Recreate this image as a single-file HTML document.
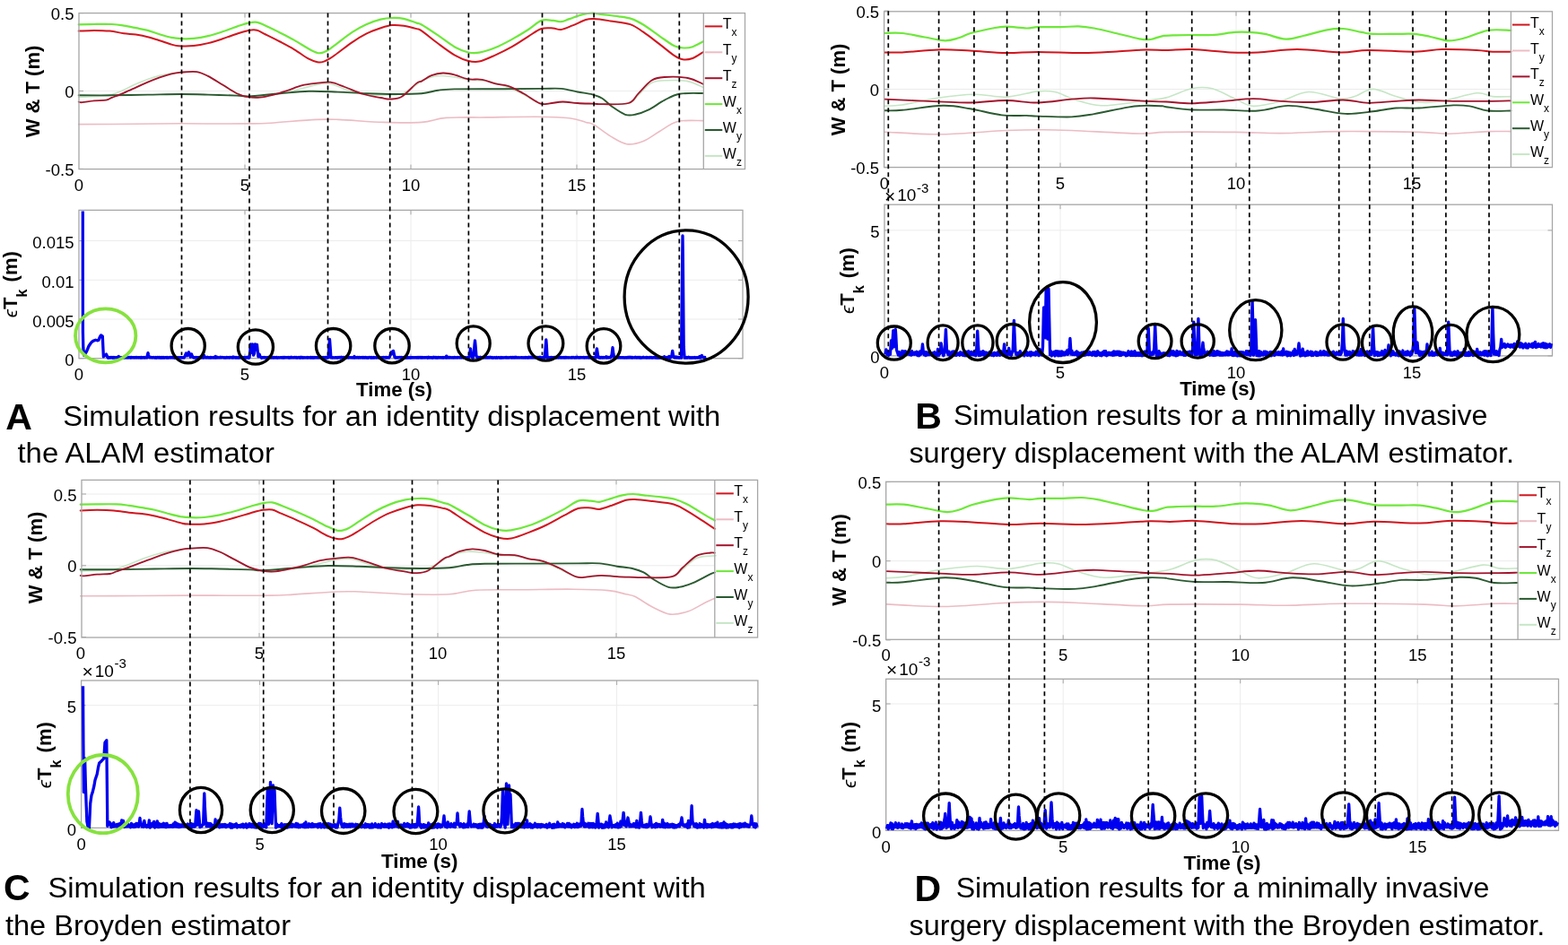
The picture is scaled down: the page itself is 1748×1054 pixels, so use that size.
<!DOCTYPE html>
<html><head><meta charset="utf-8"><title>Simulation results</title>
<style>html,body{margin:0;padding:0;background:#fff;}svg{display:block;}</style>
</head><body>
<svg width="1748" height="1054" viewBox="0 0 1748 1054" font-family="'Liberation Sans', Arial, Helvetica, sans-serif">
<rect width="1748" height="1054" fill="#fff"/>
<line x1="273" y1="14.6" x2="273" y2="188.6" stroke="#ececec" stroke-width="1"/>
<line x1="458" y1="14.6" x2="458" y2="188.6" stroke="#ececec" stroke-width="1"/>
<line x1="643" y1="14.6" x2="643" y2="188.6" stroke="#ececec" stroke-width="1"/>
<line x1="88" y1="101.5" x2="784.3" y2="101.5" stroke="#ececec" stroke-width="1"/>
<path d="M87.7,138.6C98.1,138.6 131,138.4 150,138.3C169,138.2 186.9,137.9 201.9,137.8C216.9,137.8 227.5,138 240,138C252.5,138 266.6,138 276.9,137.9C287.2,137.8 289.4,137.9 302,137.2C314.6,136.4 339.8,134 352.4,133.4C365,132.8 364.9,132.9 377.5,133.4C390.1,133.9 412.5,135.9 427.9,136.4C443.3,136.9 458.4,137.2 470,136.4C481.6,135.6 485.3,132.3 497.5,131.4C509.7,130.5 526.4,131.1 543.2,130.9C560,130.7 582.8,130.2 598.1,130.3C613.4,130.5 625.6,130.8 634.8,131.8C644,132.8 648.5,135.2 653.1,136.4C657.7,137.6 657.6,136.5 662.2,139.1C666.8,141.7 674.4,148.3 680.5,151.9C686.6,155.5 692.7,159.8 698.8,160.7C704.9,161.6 711,159.8 717.1,157.4C723.2,155 729,150.2 735.4,146.5C741.8,142.8 747.5,137.5 755.6,135.5C763.7,133.5 779.3,134.8 784,134.6" fill="none" stroke="#ecbcc4" stroke-width="1.6" stroke-linejoin="round" stroke-linecap="round"/>
<path d="M87.7,108.3C92.8,108.1 112,107.5 118.2,107C124.4,106.5 121.5,106.7 124.8,105.6C128.1,104.5 133.7,102.3 138.1,100.3C142.5,98.3 147,95.7 151.4,93.7C155.8,91.7 160.3,90 164.7,88.4C169.1,86.9 173.6,85.5 178,84.4C182.4,83.3 187.2,82.5 191.2,81.8C195.2,81.1 197.2,80.8 201.9,80.5C206.6,80.2 214.2,79.5 219.2,80.3C224.2,81 227.2,82.6 232,85C236.8,87.4 242.8,91.6 248.1,94.8C253.4,98 259.3,102.2 264.1,104.4C268.9,106.6 272.6,107.5 276.9,108.2C281.2,108.9 285.1,108.9 289.7,108.5C294.2,108.1 297.8,107 304.2,105.8C310.6,104.5 320.2,102.9 328.2,101C336.2,99.1 345.5,95.8 352.2,94.6C358.9,93.3 362.9,92.7 368.3,93.5C373.7,94.3 377.6,97.4 384.3,99.4C391,101.5 400.3,104.7 408.3,105.8C416.3,106.9 425.7,106.1 432.4,105.8C439.1,105.5 443.1,106.1 448.4,104.2C453.7,102.3 460.8,97 464.4,94.6C468,92.2 466,91.4 470,89.7C474,88 482.2,85.2 488.3,84.6C494.4,84 501.1,85.3 506.6,86C512.1,86.7 515.2,88 521.3,88.8C527.4,89.6 535.9,89.2 543.2,90.6C550.5,92 559.1,94.9 565.2,97C571.3,99.1 573.7,100.4 579.8,103.4C585.9,106.5 596.3,113.3 601.8,115.3C607.3,117.3 608.5,115.8 612.8,115.5C617.1,115.2 622.2,113.8 627.4,113.8C632.6,113.8 638.1,114.8 643.9,115.2C649.7,115.6 657.6,115.7 662.2,115.9C666.8,116.1 665,116.3 671.4,116.2C677.8,116.1 694,116.9 700.7,115.2C707.4,113.5 707.3,110 711.6,106.2C715.9,102.4 720.8,95.2 726.3,92.4C731.8,89.7 737.9,90 744.6,89.7C751.3,89.4 760,89.3 766.6,90.6C773.2,91.9 781.1,96.3 784,97.5" fill="none" stroke="#c6e6c6" stroke-width="1.6" stroke-linejoin="round" stroke-linecap="round"/>
<path d="M87.7,106.3C93.9,106.3 112,106.4 124.8,106.3C137.6,106.2 151.8,105.8 164.7,105.6C177.5,105.4 190.7,105 201.9,105C213.1,105 221.6,105.3 232,105.6C242.4,105.9 256.6,106.3 264.1,106.6C271.6,106.9 268.9,107.8 276.9,107.4C284.9,107 301,105.1 312.2,104.2C323.4,103.3 333.5,102.1 344.2,101.8C354.9,101.5 365.6,102.2 376.3,102.6C387,103 397.6,103.8 408.3,104.2C419,104.6 430.1,105 440.4,105C450.7,105 462,105 470,104.3C478,103.6 482.2,101.5 488.3,100.7C494.4,99.9 494.4,99.7 506.6,99.4C518.8,99.2 545.3,99.3 561.5,99.2C577.7,99.1 592.9,99 603.6,98.9C614.3,98.9 618.9,98.3 625.6,98.9C632.3,99.5 638.1,101.4 643.9,102.5C649.7,103.6 655.8,104.1 660.4,105.3C665,106.5 667.7,107.5 671.4,109.8C675.1,112.1 678.1,116 682.4,119C686.7,122 692.7,126.3 697,127.8C701.3,129.3 703.7,128.7 708,127.8C712.3,127 717.1,125.4 722.6,122.7C728.1,120 735.1,114.7 740.9,111.7C746.7,108.7 750.2,106 757.4,104.7C764.6,103.4 779.6,104.1 784,104" fill="none" stroke="#2a5a30" stroke-width="1.9" stroke-linejoin="round" stroke-linecap="round"/>
<path d="M87.7,113.6C88.3,113.7 88.7,114.4 91.6,114.2C94.5,114 100.5,112.7 104.9,112.3C109.3,111.9 114.9,112.2 118.2,111.6C121.5,111 121.5,110.2 124.8,108.9C128.1,107.6 133.7,105.5 138.1,103.6C142.5,101.7 147,99.6 151.4,97.6C155.8,95.6 160.3,93.6 164.7,91.7C169.1,89.8 173.6,88 178,86.4C182.4,84.9 187.2,83.4 191.2,82.4C195.2,81.5 197.2,81.1 201.9,80.7C206.6,80.3 214.2,79.4 219.2,80.1C224.2,80.8 227.2,82.5 232,84.9C236.8,87.3 242.8,91.4 248.1,94.6C253.4,97.8 259.3,101.9 264.1,104.2C268.9,106.5 272.6,107.5 276.9,108.2C281.2,109 285.1,109.1 289.7,108.7C294.2,108.3 299.1,107.1 304.2,105.8C309.3,104.5 314.9,102.7 320.2,101C325.5,99.3 330.9,96.8 336.2,95.4C341.5,94.1 346.8,93.5 352.2,92.9C357.6,92.3 362.9,91 368.3,91.7C373.7,92.4 378.2,94.8 384.3,97C390.4,99.2 398.4,103 405.1,105C411.8,107 419.3,108.1 424.4,109C429.5,109.9 431.6,110.9 435.6,110.6C439.6,110.3 443.6,110.4 448.4,107.4C453.2,104.5 460.8,95.7 464.4,92.9C468,90.1 467.2,92 470,90.6C472.8,89.1 477,85.7 481,84.2C485,82.7 489.5,81.7 493.8,81.5C498.1,81.3 502,82.2 506.6,83.3C511.2,84.4 516.1,87.3 521.3,88.2C526.5,89.1 532.5,87.9 537.7,88.8C542.9,89.7 547.5,92.2 552.4,93.4C557.3,94.6 561.8,94.3 567,96.1C572.2,97.9 577.7,101.1 583.5,104.3C589.3,107.5 596.9,113.5 601.8,115.3C606.7,117.1 608.5,115.6 612.8,115.3C617.1,115 622.2,113.5 627.4,113.5C632.6,113.5 638.1,114.6 643.9,115C649.7,115.4 657.6,115.5 662.2,115.7C666.8,115.9 665,116.3 671.4,116.2C677.8,116.1 694,117 700.7,115C707.4,113 707.3,108.5 711.6,104.3C715.9,100.1 721.4,92.8 726.3,89.7C731.2,86.7 734.2,86.5 740.9,86C747.6,85.5 759.4,85.7 766.6,87C773.8,88.3 781.1,92.7 784,93.8" fill="none" stroke="#a3142c" stroke-width="1.8" stroke-linejoin="round" stroke-linecap="round"/>
<path d="M87.7,27.3C90.6,27.2 98.7,27.1 104.9,27C111.1,26.9 119.3,26.7 124.8,27C130.3,27.3 133.7,27.9 138.1,28.6C142.5,29.3 147,30.3 151.4,31.2C155.8,32.1 160.3,32.7 164.7,33.9C169.1,35.1 173.6,36.9 178,38.2C182.4,39.5 187.2,41.1 191.2,41.9C195.2,42.7 197.8,43 201.9,43.2C206,43.4 211,43.4 216,42.9C221,42.4 226.7,41.4 232,40.1C237.3,38.8 242.8,37 248.1,35.3C253.4,33.5 259.3,31.2 264.1,29.6C268.9,28 273.2,26.4 276.9,25.6C280.6,24.8 283.3,24.3 286.5,24.8C289.7,25.3 291.9,26.9 296.2,28.8C300.5,30.8 306.9,33.8 312.2,36.5C317.5,39.2 322.9,41.9 328.2,44.9C333.5,47.9 339.9,52.1 344.2,54.5C348.5,56.9 351.1,58.3 353.8,59C356.5,59.7 358.2,59.1 360.3,58.5C362.4,57.9 364,57 366.7,55.3C369.4,53.6 372,51.3 376.3,48.1C380.6,44.9 387,39.6 392.3,36.1C397.6,32.6 403,29.6 408.3,27.2C413.6,24.8 419.6,22.8 424.4,21.6C429.2,20.4 432.9,20.1 437.2,20C441.5,19.9 445.5,19.9 450,20.8C454.5,21.7 461.1,24.5 464.4,25.6C467.7,26.7 466,25.2 470,27.5C474,29.8 482.2,35.3 488.3,39.4C494.4,43.5 501.1,49.1 506.6,52.2C512.1,55.3 516.7,57.1 521.3,58.2C525.9,59.3 528.9,59.5 534.1,58.6C539.3,57.8 546.3,55.6 552.4,53.1C558.5,50.6 564.6,47.2 570.7,43.9C576.8,40.5 583.5,36.5 589,33C594.5,29.5 599,24.6 603.6,22.9C608.2,21.2 612.8,22.7 616.5,22.9C620.2,23.1 622.6,24.5 625.6,24.2C628.6,23.9 630.8,22.5 634.8,21.1C638.8,19.8 645.1,17.2 649.4,16.1C653.7,15 656.7,14.6 660.4,14.6C664.1,14.6 666.5,15.5 671.4,16.1C676.3,16.7 684.2,17.5 689.7,18.3C695.2,19.1 699.7,19.6 704.3,21.1C708.9,22.6 711.9,24.3 717.1,27.5C722.3,30.7 729.6,36.3 735.4,40.3C741.2,44.3 747.3,49.1 751.9,51.3C756.5,53.5 759.5,53.4 762.9,53.5C766.3,53.6 768.6,53.4 772.1,52.2C775.6,51 782,47.2 784,46.2" fill="none" stroke="#6ee83a" stroke-width="2.2" stroke-linejoin="round" stroke-linecap="round"/>
<path d="M87.7,34.6C90.6,34.5 99.2,33.9 104.9,33.9C110.7,33.9 116.7,34 122.2,34.6C127.7,35.2 133.2,36.5 138.1,37.2C143,37.9 147,37.9 151.4,38.6C155.8,39.3 160.3,40.1 164.7,41.2C169.1,42.3 173.6,43.8 178,45.2C182.4,46.6 187.7,48.6 191.2,49.6C194.7,50.6 195.1,51 199.2,51.2C203.3,51.4 210.5,51.5 216,51C221.5,50.5 226.7,49.4 232,48.1C237.3,46.8 242.8,45 248.1,43.3C253.4,41.6 259.3,39.2 264.1,37.7C268.9,36.2 273.2,34.7 276.9,34C280.6,33.3 283.3,33 286.5,33.7C289.7,34.5 291.9,36.4 296.2,38.5C300.5,40.6 306.9,43.7 312.2,46.5C317.5,49.3 322.9,52.1 328.2,55.3C333.5,58.5 339.9,63.4 344.2,65.7C348.5,68 351.1,68.7 353.8,69.2C356.5,69.7 357.9,69.6 360.3,68.9C362.7,68.2 365.6,66.5 368.3,64.9C371,63.3 372.3,62.2 376.3,59.3C380.3,56.4 387,50.9 392.3,47.3C397.6,43.7 403,40.4 408.3,37.7C413.6,35 419.6,32.9 424.4,31.3C429.2,29.7 432.9,28.4 437.2,28C441.5,27.6 445.5,28.1 450,28.8C454.5,29.5 461.1,31.2 464.4,32.1C467.7,33 466,31.7 470,34.4C474,37.1 482.2,44 488.3,48.5C494.4,53 501.1,58.1 506.6,61.3C512.1,64.5 516.7,66.5 521.3,67.7C525.9,68.9 528.9,69.7 534.1,68.6C539.3,67.5 546.3,64 552.4,61.3C558.5,58.6 564.6,55.7 570.7,52.2C576.8,48.8 583.5,44 589,40.6C594.5,37.2 599,33.5 603.6,32C608.2,30.5 612.8,31.3 616.5,31.5C620.2,31.7 622,33.5 625.6,33C629.2,32.5 633.8,30.2 638.4,28.4C643,26.6 649.1,23.2 653.1,22C657.1,20.8 657.6,20.9 662.2,21.1C666.8,21.3 673.8,22.4 680.5,23.4C687.2,24.4 696.4,25.1 702.5,27.1C708.6,29.2 711.6,32 717.1,35.7C722.6,39.4 729.6,45 735.4,49.4C741.2,53.8 747.6,59.4 751.9,62.2C756.2,65 757.7,65.8 761.1,66.3C764.5,66.8 768.3,66.4 772.1,65C775.9,63.6 782,59.2 784,58" fill="none" stroke="#d0161f" stroke-width="2" stroke-linejoin="round" stroke-linecap="round"/>
<rect x="88" y="14.6" width="742.5" height="174" fill="none" stroke="#a6a6a6" stroke-width="1.3"/>
<line x1="784.3" y1="14.6" x2="784.3" y2="188.6" stroke="#a6a6a6" stroke-width="1.3"/>
<line x1="273" y1="14.6" x2="273" y2="19.6" stroke="#a6a6a6" stroke-width="1"/>
<line x1="273" y1="188.6" x2="273" y2="183.6" stroke="#a6a6a6" stroke-width="1"/>
<line x1="458" y1="14.6" x2="458" y2="19.6" stroke="#a6a6a6" stroke-width="1"/>
<line x1="458" y1="188.6" x2="458" y2="183.6" stroke="#a6a6a6" stroke-width="1"/>
<line x1="643" y1="14.6" x2="643" y2="19.6" stroke="#a6a6a6" stroke-width="1"/>
<line x1="643" y1="188.6" x2="643" y2="183.6" stroke="#a6a6a6" stroke-width="1"/>
<line x1="88" y1="14.6" x2="93" y2="14.6" stroke="#a6a6a6" stroke-width="1"/>
<line x1="88" y1="101.5" x2="93" y2="101.5" stroke="#a6a6a6" stroke-width="1"/>
<line x1="88" y1="188.4" x2="93" y2="188.4" stroke="#a6a6a6" stroke-width="1"/>
<text x="82.5" y="22.1" font-size="18.5" text-anchor="end" font-weight="normal" fill="#000">0.5</text>
<text x="82.5" y="109" font-size="18.5" text-anchor="end" font-weight="normal" fill="#000">0</text>
<text x="82.5" y="195.9" font-size="18.5" text-anchor="end" font-weight="normal" fill="#000">-0.5</text>
<text x="88" y="212.6" font-size="18.5" text-anchor="middle" font-weight="normal" fill="#000">0</text>
<text x="273" y="212.6" font-size="18.5" text-anchor="middle" font-weight="normal" fill="#000">5</text>
<text x="458" y="212.6" font-size="18.5" text-anchor="middle" font-weight="normal" fill="#000">10</text>
<text x="643" y="212.6" font-size="18.5" text-anchor="middle" font-weight="normal" fill="#000">15</text>
<line x1="785.8" y1="29.4" x2="805.3" y2="29.4" stroke="#d0161f" stroke-width="2"/>
<text x="805.8" y="32.4" font-size="16" fill="#000">T<tspan font-size="12" dy="8">x</tspan></text>
<line x1="785.8" y1="58.3" x2="805.3" y2="58.3" stroke="#ecbcc4" stroke-width="2"/>
<text x="805.8" y="61.3" font-size="16" fill="#000">T<tspan font-size="12" dy="8">y</tspan></text>
<line x1="785.8" y1="87.2" x2="805.3" y2="87.2" stroke="#a3142c" stroke-width="2"/>
<text x="805.8" y="90.2" font-size="16" fill="#000">T<tspan font-size="12" dy="8">z</tspan></text>
<line x1="785.8" y1="116.1" x2="805.3" y2="116.1" stroke="#6ee83a" stroke-width="2"/>
<text x="805.8" y="119.1" font-size="16" fill="#000">W<tspan font-size="12" dy="8">x</tspan></text>
<line x1="785.8" y1="145" x2="805.3" y2="145" stroke="#2a5a30" stroke-width="2"/>
<text x="805.8" y="148" font-size="16" fill="#000">W<tspan font-size="12" dy="8">y</tspan></text>
<line x1="785.8" y1="173.9" x2="805.3" y2="173.9" stroke="#c6e6c6" stroke-width="2"/>
<text x="805.8" y="176.9" font-size="16" fill="#000">W<tspan font-size="12" dy="8">z</tspan></text>
<text transform="translate(44,102) rotate(-90)" font-size="22" font-weight="bold" text-anchor="middle" fill="#000">W &amp; T (m)</text>
<line x1="1182" y1="12.8" x2="1182" y2="186.6" stroke="#ececec" stroke-width="1"/>
<line x1="1378" y1="12.8" x2="1378" y2="186.6" stroke="#ececec" stroke-width="1"/>
<line x1="1574" y1="12.8" x2="1574" y2="186.6" stroke="#ececec" stroke-width="1"/>
<line x1="985.6" y1="99.5" x2="1684.4" y2="99.5" stroke="#ececec" stroke-width="1"/>
<path d="M986.2,147.2C997,147.6 1028.6,150.1 1051.2,149.8C1073.8,149.5 1103.1,146.3 1121.6,145.5C1140,144.7 1149.7,144.7 1161.9,144.7C1174.1,144.7 1176.6,144.8 1194.6,145.5C1212.6,146.2 1252.5,148.7 1270.1,149C1287.7,149.3 1282.2,147.7 1300,147.4C1317.8,147.1 1355.6,147.2 1376.9,147.4C1398.2,147.6 1408.9,148.7 1428.1,148.6C1447.3,148.5 1466.6,146.8 1492.2,146.6C1517.8,146.4 1561.4,147 1581.9,147.4C1602.4,147.8 1602.4,149.3 1615.2,149.2C1628,149.1 1647.3,147 1658.8,146.6C1670.3,146.2 1680.1,146.6 1684.4,146.6" fill="none" stroke="#ecbcc4" stroke-width="1.6" stroke-linejoin="round" stroke-linecap="round"/>
<path d="M986.2,118.3C989.5,118.1 996.2,118.5 1005.8,117C1015.4,115.5 1030.2,111.5 1043.6,109.5C1057,107.5 1073.4,105.4 1086.4,105.2C1099.4,105 1109.8,108.8 1121.6,108.2C1133.3,107.7 1147.7,102.8 1156.9,101.9C1166.1,101 1170.3,101.2 1177,102.7C1183.7,104.2 1188.7,108.2 1197.1,110.7C1205.5,113.2 1215.1,117.4 1227.3,117.8C1239.5,118.2 1258,114.8 1270.1,113.3C1282.2,111.8 1290.3,111.3 1300,108.9C1309.7,106.5 1319.7,100.4 1328.2,98.7C1336.8,97 1343.2,96.8 1351.3,98.7C1359.4,100.6 1369.2,106.9 1376.9,110.2C1384.6,113.5 1388.9,118 1397.4,118.4C1405.9,118.8 1417.8,115.5 1428.1,112.8C1438.3,110.1 1447.8,102.9 1458.9,102.5C1470,102.1 1486.3,109.4 1494.8,110.2C1503.3,111 1504.1,109.4 1510.1,107.6C1516.1,105.8 1522.9,99.4 1530.6,99.4C1538.3,99.4 1547.8,105.2 1556.3,107.6C1564.8,110 1573.4,113.1 1581.9,114C1590.4,114.9 1596.8,114.5 1607.5,112.8C1618.2,111.1 1636.6,104.7 1646,103.8C1655.4,102.9 1657.5,107 1663.9,107.6C1670.3,108.2 1681,107.6 1684.4,107.6" fill="none" stroke="#c6e6c6" stroke-width="1.6" stroke-linejoin="round" stroke-linecap="round"/>
<path d="M986.2,123.3C989.5,123.2 995,123.7 1005.8,122.8C1016.6,121.9 1038.6,118 1051.2,117.8C1063.8,117.5 1070.5,119.5 1081.4,121.3C1092.3,123.1 1106.1,127.1 1116.6,128.4C1127.1,129.7 1137.6,128.7 1144.3,128.9C1151,129.1 1148.5,129.3 1156.9,129.6C1165.3,129.8 1184.1,130.8 1194.6,130.4C1205.1,130 1209.3,128.9 1219.8,127.1C1230.3,125.3 1247.8,121.1 1257.5,119.6C1267.2,118 1271.4,118 1277.7,117.8C1284,117.6 1291.6,118.1 1295.3,118.3C1299,118.5 1294.5,118.5 1300,119.2C1305.5,119.9 1317.5,122 1328.2,122.5C1338.9,123 1351.7,122.3 1364.1,122.5C1376.5,122.7 1390.5,124.3 1402.5,123.5C1414.5,122.7 1425.1,118.2 1435.8,117.9C1446.5,117.6 1455.9,120.2 1466.6,121.7C1477.3,123.2 1489.2,126.5 1499.9,126.9C1510.6,127.3 1521.2,125.4 1530.6,124.3C1540,123.2 1547.8,121.1 1556.3,120.5C1564.8,119.9 1571.2,121 1581.9,120.5C1592.6,120 1610.9,117.8 1620.3,117.4C1629.7,117.1 1631.9,117.4 1638.3,118.4C1644.7,119.4 1651.1,122.7 1658.8,123.5C1666.5,124.3 1680.1,123.5 1684.4,123.5" fill="none" stroke="#2a5a30" stroke-width="1.9" stroke-linejoin="round" stroke-linecap="round"/>
<path d="M986.2,110.7C996.2,111.1 1030.2,112.7 1046.1,113.3C1062,113.9 1068.8,114.7 1081.4,114.5C1094,114.3 1109,112 1121.6,112C1134.2,112 1144.7,114.7 1156.9,114.5C1169.1,114.3 1184.1,111.5 1194.6,110.7C1205.1,109.9 1205.9,109.2 1219.8,109.5C1233.7,109.8 1264.3,112.1 1277.7,112.8C1291.1,113.5 1291.6,113.1 1300,113.5C1308.4,113.9 1317.5,115.4 1328.2,115.3C1338.9,115.2 1352.6,113.6 1364.1,112.8C1375.6,112 1386.7,110.2 1397.4,110.2C1408.1,110.2 1417.4,112.2 1428.1,112.8C1438.8,113.4 1450,114.2 1461.5,114C1473,113.8 1486.6,111.4 1497.3,111.5C1508,111.6 1515.7,114.6 1525.5,114.8C1535.3,115 1546.9,113.3 1556.3,112.8C1565.7,112.2 1571.2,111.5 1581.9,111.5C1592.6,111.5 1607.5,112.6 1620.3,112.8C1633.1,113 1648.1,112.9 1658.8,112.8C1669.5,112.7 1680.1,112.4 1684.4,112.3" fill="none" stroke="#a3142c" stroke-width="1.8" stroke-linejoin="round" stroke-linecap="round"/>
<path d="M986.2,37C989.5,37 998.3,36.2 1005.8,37C1013.3,37.8 1023,40.1 1031,41.5C1039,42.9 1047.4,45.2 1053.7,45.3C1060,45.4 1064.2,43.6 1068.8,42.3C1073.4,41 1075.1,39.1 1081.4,37.3C1087.7,35.5 1099.8,32.8 1106.5,31.5C1113.2,30.2 1115.3,29.7 1121.6,29.7C1127.9,29.7 1138.4,31.4 1144.3,31.5C1150.2,31.6 1150.6,30.4 1156.9,30.2C1163.2,30 1174.5,30.3 1182,30.2C1189.5,30.1 1195.9,29.2 1202.2,29.4C1208.5,29.6 1212.7,30.2 1219.8,31.5C1226.9,32.8 1236.6,35.3 1245,37.3C1253.4,39.3 1263.8,42.2 1270.1,43.3C1276.4,44.4 1278.5,44.5 1282.7,44C1286.9,43.5 1290.8,41.1 1295.3,40.3C1299.8,39.5 1304.5,39.5 1310,39.3C1315.5,39.1 1321.3,39 1328.2,39C1335.1,39 1343.2,39.5 1351.3,39C1359.4,38.5 1370.1,36.4 1376.9,35.9C1383.7,35.4 1386.8,35.6 1392.3,35.9C1397.8,36.2 1403.4,36.6 1410.2,37.9C1417,39.2 1426,43.3 1433.3,43.6C1440.6,43.9 1446.1,41.4 1453.8,39.7C1461.5,38 1472.2,34.6 1479.4,33.3C1486.7,32 1490.9,31.6 1497.3,32C1503.7,32.4 1512.2,34.9 1517.8,35.9C1523.3,36.9 1524.2,37.6 1530.6,37.9C1537,38.2 1548.6,37.9 1556.3,37.9C1564,37.9 1570.4,37.4 1576.8,37.9C1583.2,38.4 1588.3,39.8 1594.7,41C1601.1,42.2 1608.8,45.2 1615.2,45.4C1621.6,45.6 1625.9,44.2 1633.2,42.3C1640.5,40.4 1650.3,35.2 1658.8,33.8C1667.3,32.4 1680.1,33.8 1684.4,33.8" fill="none" stroke="#6ee83a" stroke-width="2.2" stroke-linejoin="round" stroke-linecap="round"/>
<path d="M986.2,58.4C989.5,58.4 995.8,58.9 1005.8,58.4C1015.8,57.9 1033.5,55.7 1046.1,55.4C1058.7,55.1 1068.8,56 1081.4,56.6C1094,57.2 1109,58.9 1121.6,59.1C1134.2,59.3 1142.6,57.9 1156.9,57.9C1171.2,57.9 1192.5,59.2 1207.2,59.1C1221.9,59 1233.2,58 1245,57.4C1256.8,56.8 1268.5,55.6 1277.7,55.4C1286.9,55.2 1291.5,56 1300,56C1308.5,56 1316.7,54.7 1328.7,55.1C1340.7,55.5 1359.5,57.9 1371.8,58.4C1384.1,58.9 1390.1,58.9 1402.5,58.4C1414.9,57.9 1430.7,55.1 1446.1,55.1C1461.5,55.1 1481.6,58.3 1494.8,58.4C1508,58.5 1511.8,56 1525.5,55.9C1539.2,55.8 1563.1,57.8 1576.8,57.7C1590.5,57.6 1596,55.4 1607.5,55.1C1619,54.8 1636.6,55.5 1646,55.9C1655.4,56.3 1657.5,57.4 1663.9,57.7C1670.3,58 1681,57.7 1684.4,57.7" fill="none" stroke="#d0161f" stroke-width="2" stroke-linejoin="round" stroke-linecap="round"/>
<rect x="985.6" y="12.8" width="744.9" height="173.8" fill="none" stroke="#a6a6a6" stroke-width="1.3"/>
<line x1="1684.4" y1="12.8" x2="1684.4" y2="186.6" stroke="#a6a6a6" stroke-width="1.3"/>
<line x1="1182" y1="12.8" x2="1182" y2="17.8" stroke="#a6a6a6" stroke-width="1"/>
<line x1="1182" y1="186.6" x2="1182" y2="181.6" stroke="#a6a6a6" stroke-width="1"/>
<line x1="1378" y1="12.8" x2="1378" y2="17.8" stroke="#a6a6a6" stroke-width="1"/>
<line x1="1378" y1="186.6" x2="1378" y2="181.6" stroke="#a6a6a6" stroke-width="1"/>
<line x1="1574" y1="12.8" x2="1574" y2="17.8" stroke="#a6a6a6" stroke-width="1"/>
<line x1="1574" y1="186.6" x2="1574" y2="181.6" stroke="#a6a6a6" stroke-width="1"/>
<line x1="985.6" y1="12.1" x2="990.6" y2="12.1" stroke="#a6a6a6" stroke-width="1"/>
<line x1="985.6" y1="99.5" x2="990.6" y2="99.5" stroke="#a6a6a6" stroke-width="1"/>
<line x1="985.6" y1="186.8" x2="990.6" y2="186.8" stroke="#a6a6a6" stroke-width="1"/>
<text x="980.1" y="19.6" font-size="18.5" text-anchor="end" font-weight="normal" fill="#000">0.5</text>
<text x="980.1" y="107" font-size="18.5" text-anchor="end" font-weight="normal" fill="#000">0</text>
<text x="980.1" y="194.3" font-size="18.5" text-anchor="end" font-weight="normal" fill="#000">-0.5</text>
<text x="986" y="210.6" font-size="18.5" text-anchor="middle" font-weight="normal" fill="#000">0</text>
<text x="1182" y="210.6" font-size="18.5" text-anchor="middle" font-weight="normal" fill="#000">5</text>
<text x="1378" y="210.6" font-size="18.5" text-anchor="middle" font-weight="normal" fill="#000">10</text>
<text x="1574" y="210.6" font-size="18.5" text-anchor="middle" font-weight="normal" fill="#000">15</text>
<line x1="1685.9" y1="27.6" x2="1705.4" y2="27.6" stroke="#d0161f" stroke-width="2"/>
<text x="1705.9" y="30.6" font-size="16" fill="#000">T<tspan font-size="12" dy="8">x</tspan></text>
<line x1="1685.9" y1="56.5" x2="1705.4" y2="56.5" stroke="#ecbcc4" stroke-width="2"/>
<text x="1705.9" y="59.5" font-size="16" fill="#000">T<tspan font-size="12" dy="8">y</tspan></text>
<line x1="1685.9" y1="85.4" x2="1705.4" y2="85.4" stroke="#a3142c" stroke-width="2"/>
<text x="1705.9" y="88.4" font-size="16" fill="#000">T<tspan font-size="12" dy="8">z</tspan></text>
<line x1="1685.9" y1="114.3" x2="1705.4" y2="114.3" stroke="#6ee83a" stroke-width="2"/>
<text x="1705.9" y="117.3" font-size="16" fill="#000">W<tspan font-size="12" dy="8">x</tspan></text>
<line x1="1685.9" y1="143.2" x2="1705.4" y2="143.2" stroke="#2a5a30" stroke-width="2"/>
<text x="1705.9" y="146.2" font-size="16" fill="#000">W<tspan font-size="12" dy="8">y</tspan></text>
<line x1="1685.9" y1="172.1" x2="1705.4" y2="172.1" stroke="#c6e6c6" stroke-width="2"/>
<text x="1705.9" y="175.1" font-size="16" fill="#000">W<tspan font-size="12" dy="8">z</tspan></text>
<text transform="translate(942,100) rotate(-90)" font-size="22" font-weight="bold" text-anchor="middle" fill="#000">W &amp; T (m)</text>
<line x1="289" y1="535.4" x2="289" y2="711" stroke="#ececec" stroke-width="1"/>
<line x1="488" y1="535.4" x2="488" y2="711" stroke="#ececec" stroke-width="1"/>
<line x1="687" y1="535.4" x2="687" y2="711" stroke="#ececec" stroke-width="1"/>
<line x1="91" y1="551" x2="796.8" y2="551" stroke="#ececec" stroke-width="1"/>
<line x1="91" y1="630.8" x2="796.8" y2="630.8" stroke="#ececec" stroke-width="1"/>
<path d="M89.7,664.8C100.8,664.8 136.2,664.6 156.7,664.5C177.2,664.4 196.4,664.1 212.5,664.1C228.7,664 240.1,664.2 253.5,664.2C266.9,664.3 282.1,664.3 293.2,664.2C304.3,664 306.7,664.2 320.2,663.5C333.7,662.8 360.9,660.6 374.4,660C387.9,659.4 387.9,659.6 401.4,660C414.9,660.5 439,662.3 455.6,662.8C472.2,663.2 488.4,663.5 500.9,662.8C513.4,662 517.4,659 530.5,658.2C543.6,657.3 561.6,657.9 579.6,657.7C597.7,657.6 622.3,657 638.7,657.2C655.1,657.3 668.3,657.6 678.2,658.6C688,659.5 693,661.7 697.9,662.8C702.8,663.9 702.7,662.9 707.7,665.3C712.6,667.6 720.8,673.7 727.3,677C733.9,680.3 740.5,684.2 747,685.1C753.6,685.9 760.1,684.2 766.7,682.1C773.3,679.9 781.4,674.5 786.4,672C791.4,669.6 795.1,668 796.8,667.2" fill="none" stroke="#ecbcc4" stroke-width="1.6" stroke-linejoin="round" stroke-linecap="round"/>
<path d="M89.7,637C95.1,636.8 115.8,636.2 122.5,635.8C129.1,635.4 126,635.5 129.6,634.5C133.2,633.5 139.1,631.5 143.9,629.6C148.7,627.8 153.4,625.4 158.2,623.6C163,621.8 167.7,620.2 172.5,618.7C177.3,617.3 182.1,616.1 186.8,615.1C191.6,614 196.7,613.3 201,612.7C205.3,612.1 207.5,611.7 212.5,611.5C217.5,611.2 225.7,610.6 231.1,611.3C236.5,612 239.7,613.4 244.9,615.6C250.1,617.8 256.5,621.6 262.2,624.6C268,627.6 274.3,631.4 279.4,633.4C284.6,635.5 288.6,636.3 293.2,636.9C297.8,637.5 302.1,637.5 307,637.2C311.9,636.8 315.7,635.8 322.6,634.7C329.5,633.5 339.8,632 348.4,630.3C357,628.6 367,625.6 374.2,624.4C381.4,623.3 385.8,622.7 391.5,623.4C397.3,624.1 401.6,626.9 408.7,628.8C415.9,630.7 425.9,633.7 434.5,634.7C443.2,635.7 453.3,634.9 460.5,634.7C467.7,634.5 471.9,634.9 477.7,633.2C483.4,631.5 491,626.6 494.9,624.4C498.8,622.2 496.6,621.5 500.9,619.9C505.2,618.4 514,615.8 520.6,615.2C527.2,614.7 534.4,615.9 540.3,616.5C546.2,617.2 549.5,618.4 556.1,619.1C562.7,619.8 571.8,619.5 579.6,620.7C587.5,622 596.8,624.7 603.3,626.6C609.9,628.6 612.5,629.7 619,632.5C625.6,635.3 636.8,641.6 642.7,643.4C648.6,645.3 649.9,643.8 654.5,643.6C659.1,643.4 664.6,642.1 670.2,642C675.8,642 681.7,643 688,643.3C694.2,643.6 702.7,643.8 707.7,644C712.6,644.1 710.6,644.3 717.5,644.2C724.5,644.1 741.9,644.9 749.1,643.3C756.3,641.8 756.2,638.6 760.8,635.1C765.4,631.6 770.7,624.9 776.6,622.4C782.5,619.9 792.9,620.3 796.3,619.9C799.7,619.5 796.7,619.9 796.8,619.9" fill="none" stroke="#c6e6c6" stroke-width="1.6" stroke-linejoin="round" stroke-linecap="round"/>
<path d="M89.7,635.2C96.3,635.2 115.8,635.3 129.6,635.2C143.4,635 158.7,634.7 172.5,634.5C186.3,634.3 200.5,634 212.5,634C224.6,634 233.7,634.3 244.9,634.5C256,634.8 271.4,635.2 279.4,635.4C287.5,635.7 284.6,636.5 293.2,636.2C301.8,635.8 319.1,634.1 331.2,633.2C343.2,632.4 354.1,631.3 365.6,631C377.1,630.8 388.6,631.4 400.1,631.8C411.6,632.1 423,632.9 434.5,633.2C446,633.6 458,633.9 469.1,634C480.1,634 492.3,634 500.9,633.3C509.5,632.7 514,630.8 520.6,630C527.2,629.3 527.2,629.1 540.3,628.8C553.4,628.6 581.9,628.7 599.3,628.6C616.7,628.6 633.1,628.4 644.6,628.4C656.1,628.3 661.1,627.8 668.3,628.4C675.5,628.9 681.7,630.7 688,631.7C694.2,632.6 700.8,633.1 705.7,634.2C710.6,635.4 713.6,636.3 717.5,638.4C721.5,640.5 724.8,644.1 729.4,646.8C734,649.6 740.5,653.5 745.1,654.9C749.7,656.2 752.3,655.7 756.9,654.9C761.5,654.1 766.7,652.7 772.6,650.2C778.5,647.7 788.3,642.1 792.3,640.1C796.3,638.2 796.1,638.8 796.8,638.5" fill="none" stroke="#2a5a30" stroke-width="1.9" stroke-linejoin="round" stroke-linecap="round"/>
<path d="M89.7,641.9C90.4,641.9 90.8,642.6 93.9,642.4C97,642.2 103.4,641.1 108.2,640.7C112.9,640.3 118.9,640.5 122.5,640C126.1,639.5 126,638.8 129.6,637.5C133.2,636.3 139.1,634.4 143.9,632.7C148.7,630.9 153.4,629 158.2,627.2C163,625.4 167.7,623.5 172.5,621.8C177.3,620 182.1,618.3 186.8,616.9C191.6,615.5 196.7,614.1 201,613.2C205.3,612.3 207.5,612 212.5,611.7C217.5,611.3 225.7,610.5 231.1,611.1C236.5,611.8 239.7,613.3 244.9,615.5C250.1,617.7 256.5,621.5 262.2,624.4C268,627.4 274.3,631.1 279.4,633.2C284.6,635.3 288.6,636.2 293.2,636.9C297.8,637.6 302.1,637.7 307,637.4C311.9,637 317.1,635.9 322.6,634.7C328,633.5 334,631.9 339.8,630.3C345.5,628.7 351.2,626.4 357,625.2C362.7,623.9 368.4,623.4 374.2,622.9C379.9,622.3 385.8,621.1 391.5,621.8C397.3,622.4 402.1,624.6 408.7,626.6C415.3,628.7 423.9,632.1 431.1,634C438.3,635.8 446.4,636.8 451.9,637.6C457.3,638.5 459.6,639.3 463.9,639.1C468.2,638.9 472.5,638.9 477.7,636.2C482.8,633.5 491,625.4 494.9,622.9C498.8,620.3 497.9,622.1 500.9,620.7C503.9,619.4 508.5,616.3 512.7,614.9C517,613.5 521.9,612.5 526.5,612.4C531.1,612.3 535.3,613 540.3,614C545.2,615.1 550.5,617.7 556.1,618.5C561.7,619.4 568.2,618.3 573.7,619.1C579.3,619.9 584.3,622.2 589.5,623.3C594.8,624.4 599.7,624.1 605.2,625.8C610.8,627.5 616.8,630.4 623,633.3C629.2,636.3 637.4,641.7 642.7,643.4C647.9,645.1 649.9,643.7 654.5,643.4C659.1,643.1 664.6,641.8 670.2,641.8C675.8,641.7 681.7,642.8 688,643.1C694.2,643.5 702.7,643.6 707.7,643.8C712.6,644 710.6,644.3 717.5,644.2C724.5,644.1 741.9,645 749.1,643.1C756.3,641.3 756.2,637.2 760.8,633.3C765.4,629.4 771.4,622.7 776.6,619.9C781.9,617.1 788.9,617.1 792.3,616.5C795.7,616 796.1,616.6 796.8,616.7" fill="none" stroke="#a3142c" stroke-width="1.8" stroke-linejoin="round" stroke-linecap="round"/>
<path d="M89.7,562.7C92.8,562.6 101.5,562.4 108.2,562.4C114.8,562.3 123.6,562.1 129.6,562.4C135.5,562.6 139.1,563.2 143.9,563.8C148.7,564.5 153.4,565.4 158.2,566.2C163,567 167.7,567.6 172.5,568.7C177.3,569.8 182.1,571.4 186.8,572.7C191.6,573.9 196.7,575.3 201,576.1C205.3,576.8 208.1,577.1 212.5,577.2C217,577.4 222.3,577.4 227.7,577C233.1,576.5 239.1,575.6 244.9,574.4C250.7,573.2 256.5,571.6 262.2,570C268,568.4 274.3,566.2 279.4,564.8C284.6,563.3 289.2,561.8 293.2,561.1C297.2,560.4 300.1,559.9 303.5,560.4C307,560.9 309.3,562.2 314,564C318.6,565.8 325.4,568.6 331.2,571.1C336.9,573.6 342.6,576.1 348.4,578.8C354.1,581.6 361,585.5 365.6,587.6C370.2,589.8 373,591.1 375.9,591.7C378.8,592.4 380.6,591.9 382.9,591.3C385.2,590.7 386.9,589.9 389.8,588.4C392.7,586.8 395.5,584.7 400.1,581.7C404.7,578.8 411.6,573.9 417.3,570.7C423.1,567.5 428.8,564.8 434.5,562.6C440.3,560.3 446.7,558.5 451.9,557.4C457,556.3 461,556.1 465.6,556C470.2,555.8 474.5,555.8 479.4,556.7C484.3,557.5 491.3,560.1 494.9,561.1C498.5,562.1 496.6,560.7 500.9,562.8C505.2,564.9 514,570 520.6,573.8C527.2,577.5 534.4,582.6 540.3,585.5C546.2,588.4 551.2,590 556.1,591C561,592 564.3,592.2 569.9,591.4C575.4,590.6 583,588.6 589.5,586.3C596.1,584.1 602.7,581 609.2,577.9C615.8,574.8 623,571.1 628.9,567.9C634.8,564.7 639.7,560.2 644.6,558.6C649.5,557.1 654.6,558.4 658.5,558.6C662.4,558.8 665,560.1 668.3,559.8C671.6,559.5 673.9,558.2 678.2,557C682.4,555.7 689.3,553.4 693.9,552.4C698.5,551.4 701.8,551 705.7,551C709.7,551 712.3,551.8 717.5,552.4C722.8,552.9 731.3,553.6 737.2,554.4C743.1,555.2 748,555.6 752.9,557C757.9,558.4 761.1,559.9 766.7,562.8C772.3,565.8 781.4,571.6 786.4,574.6C791.4,577.5 795.1,579.5 796.8,580.5" fill="none" stroke="#6ee83a" stroke-width="2.2" stroke-linejoin="round" stroke-linecap="round"/>
<path d="M89.7,569.4C92.8,569.2 102,568.7 108.2,568.7C114.4,568.7 120.8,568.8 126.8,569.4C132.7,569.9 138.7,571.1 143.9,571.7C149.1,572.4 153.4,572.4 158.2,573C163,573.6 167.7,574.4 172.5,575.4C177.3,576.4 182.1,577.8 186.8,579.1C191.6,580.4 197.2,582.2 201,583.1C204.8,584 205.2,584.4 209.6,584.6C214.1,584.8 221.8,584.9 227.7,584.4C233.6,583.9 239.1,582.9 244.9,581.7C250.7,580.6 256.5,578.9 262.2,577.3C268,575.7 274.3,573.6 279.4,572.2C284.6,570.8 289.2,569.4 293.2,568.8C297.2,568.2 300.1,567.8 303.5,568.5C307,569.2 309.3,571 314,572.9C318.6,574.9 325.4,577.7 331.2,580.3C336.9,582.8 342.6,585.4 348.4,588.4C354.1,591.3 361,595.8 365.6,597.9C370.2,600 373,600.6 375.9,601.1C378.8,601.6 380.3,601.5 382.9,600.8C385.5,600.2 388.6,598.6 391.5,597.2C394.4,595.7 395.8,594.7 400.1,592C404.4,589.3 411.6,584.3 417.3,581C423.1,577.7 428.8,574.6 434.5,572.2C440.3,569.8 446.7,567.8 451.9,566.3C457,564.8 461,563.7 465.6,563.3C470.2,562.9 474.5,563.4 479.4,564C484.3,564.7 491.3,566.2 494.9,567.1C498.5,567.9 496.6,566.7 500.9,569.2C505.2,571.7 514,578 520.6,582.1C527.2,586.2 534.4,590.9 540.3,593.9C546.2,596.8 551.2,598.6 556.1,599.7C561,600.8 564.3,601.5 569.9,600.6C575.4,599.6 583,596.4 589.5,593.9C596.1,591.3 602.7,588.7 609.2,585.5C615.8,582.3 623,578 628.9,574.9C634.8,571.8 639.7,568.4 644.6,567C649.5,565.6 654.6,566.4 658.5,566.5C662.4,566.7 664.4,568.4 668.3,567.9C672.2,567.4 677.1,565.3 682.1,563.7C687,562 693.6,558.9 697.9,557.8C702.1,556.7 702.7,556.8 707.7,557C712.6,557.2 720.1,558.2 727.3,559.1C734.6,560 744.4,560.6 751,562.5C757.6,564.4 760.8,567 766.7,570.4C772.6,573.8 781.4,579.7 786.4,582.9C791.4,586.2 795.1,588.7 796.8,589.8" fill="none" stroke="#d0161f" stroke-width="2" stroke-linejoin="round" stroke-linecap="round"/>
<rect x="91" y="535.4" width="753.6" height="175.6" fill="none" stroke="#a6a6a6" stroke-width="1.3"/>
<line x1="796.8" y1="535.4" x2="796.8" y2="711" stroke="#a6a6a6" stroke-width="1.3"/>
<line x1="289" y1="535.4" x2="289" y2="540.4" stroke="#a6a6a6" stroke-width="1"/>
<line x1="289" y1="711" x2="289" y2="706" stroke="#a6a6a6" stroke-width="1"/>
<line x1="488" y1="535.4" x2="488" y2="540.4" stroke="#a6a6a6" stroke-width="1"/>
<line x1="488" y1="711" x2="488" y2="706" stroke="#a6a6a6" stroke-width="1"/>
<line x1="687" y1="535.4" x2="687" y2="540.4" stroke="#a6a6a6" stroke-width="1"/>
<line x1="687" y1="711" x2="687" y2="706" stroke="#a6a6a6" stroke-width="1"/>
<line x1="91" y1="551" x2="96" y2="551" stroke="#a6a6a6" stroke-width="1"/>
<line x1="91" y1="630.8" x2="96" y2="630.8" stroke="#a6a6a6" stroke-width="1"/>
<line x1="91" y1="710.5" x2="96" y2="710.5" stroke="#a6a6a6" stroke-width="1"/>
<text x="85.5" y="558.5" font-size="18.5" text-anchor="end" font-weight="normal" fill="#000">0.5</text>
<text x="85.5" y="638.2" font-size="18.5" text-anchor="end" font-weight="normal" fill="#000">0</text>
<text x="85.5" y="718" font-size="18.5" text-anchor="end" font-weight="normal" fill="#000">-0.5</text>
<text x="90" y="735" font-size="18.5" text-anchor="middle" font-weight="normal" fill="#000">0</text>
<text x="289" y="735" font-size="18.5" text-anchor="middle" font-weight="normal" fill="#000">5</text>
<text x="488" y="735" font-size="18.5" text-anchor="middle" font-weight="normal" fill="#000">10</text>
<text x="687" y="735" font-size="18.5" text-anchor="middle" font-weight="normal" fill="#000">15</text>
<line x1="798.3" y1="550.4" x2="817.8" y2="550.4" stroke="#d0161f" stroke-width="2"/>
<text x="818.3" y="553.4" font-size="16" fill="#000">T<tspan font-size="12" dy="8">x</tspan></text>
<line x1="798.3" y1="579.3" x2="817.8" y2="579.3" stroke="#ecbcc4" stroke-width="2"/>
<text x="818.3" y="582.3" font-size="16" fill="#000">T<tspan font-size="12" dy="8">y</tspan></text>
<line x1="798.3" y1="608.2" x2="817.8" y2="608.2" stroke="#a3142c" stroke-width="2"/>
<text x="818.3" y="611.2" font-size="16" fill="#000">T<tspan font-size="12" dy="8">z</tspan></text>
<line x1="798.3" y1="637.1" x2="817.8" y2="637.1" stroke="#6ee83a" stroke-width="2"/>
<text x="818.3" y="640.1" font-size="16" fill="#000">W<tspan font-size="12" dy="8">x</tspan></text>
<line x1="798.3" y1="666" x2="817.8" y2="666" stroke="#2a5a30" stroke-width="2"/>
<text x="818.3" y="669" font-size="16" fill="#000">W<tspan font-size="12" dy="8">y</tspan></text>
<line x1="798.3" y1="694.9" x2="817.8" y2="694.9" stroke="#c6e6c6" stroke-width="2"/>
<text x="818.3" y="697.9" font-size="16" fill="#000">W<tspan font-size="12" dy="8">z</tspan></text>
<text transform="translate(47,622) rotate(-90)" font-size="22" font-weight="bold" text-anchor="middle" fill="#000">W &amp; T (m)</text>
<line x1="1185.2" y1="537.3" x2="1185.2" y2="713.3" stroke="#ececec" stroke-width="1"/>
<line x1="1382.7" y1="537.3" x2="1382.7" y2="713.3" stroke="#ececec" stroke-width="1"/>
<line x1="1580.2" y1="537.3" x2="1580.2" y2="713.3" stroke="#ececec" stroke-width="1"/>
<line x1="987.7" y1="625.7" x2="1692.1" y2="625.7" stroke="#ececec" stroke-width="1"/>
<path d="M987.9,673.9C998.8,674.3 1030.7,676.8 1053.4,676.5C1076.1,676.2 1105.7,673 1124.3,672.2C1142.9,671.3 1152.7,671.4 1164.9,671.4C1177.2,671.4 1179.7,671.4 1197.9,672.2C1216.1,672.9 1256.3,675.4 1274,675.7C1291.7,676 1286.2,674.4 1304.1,674.1C1322,673.8 1360.1,673.9 1381.6,674.1C1403.1,674.3 1413.8,675.4 1433.2,675.3C1452.5,675.2 1471.9,673.5 1497.8,673.3C1523.6,673.1 1567.5,673.7 1588.2,674.1C1608.8,674.5 1608.8,676 1621.7,675.9C1634.6,675.8 1654,673.7 1665.6,673.3C1677.3,672.8 1687.1,673.3 1691.4,673.3" fill="none" stroke="#ecbcc4" stroke-width="1.6" stroke-linejoin="round" stroke-linecap="round"/>
<path d="M987.9,644.7C991.2,644.5 998,644.9 1007.7,643.4C1017.3,641.9 1032.2,637.8 1045.7,635.8C1059.3,633.9 1075.8,631.7 1088.9,631.5C1102,631.3 1112.5,635.1 1124.3,634.5C1136.2,634 1150.6,629.1 1159.9,628.2C1169.2,627.2 1173.4,627.5 1180.2,629C1186.9,630.5 1192,634.5 1200.4,637.1C1208.9,639.6 1218.6,643.8 1230.8,644.2C1243.1,644.7 1261.8,641.2 1274,639.7C1286.2,638.2 1294.3,637.7 1304.1,635.2C1313.9,632.8 1323.9,626.7 1332.5,624.9C1341.1,623.2 1347.6,623 1355.8,624.9C1364,626.9 1373.8,633.2 1381.6,636.5C1389.3,639.9 1393.6,644.4 1402.2,644.8C1410.8,645.3 1422.9,641.8 1433.2,639.2C1443.5,636.5 1453,629.2 1464.2,628.8C1475.4,628.3 1491.8,635.7 1500.4,636.5C1509,637.4 1509.8,635.7 1515.8,633.9C1521.8,632.1 1528.7,625.6 1536.5,625.6C1544.2,625.6 1553.7,631.5 1562.4,633.9C1571,636.4 1579.6,639.5 1588.2,640.4C1596.8,641.3 1603.2,640.9 1614,639.2C1624.7,637.5 1643.3,631 1652.8,630.1C1662.2,629.2 1664.3,633.3 1670.8,633.9C1677.2,634.6 1688,633.9 1691.4,633.9" fill="none" stroke="#c6e6c6" stroke-width="1.6" stroke-linejoin="round" stroke-linecap="round"/>
<path d="M987.9,649.8C991.2,649.7 996.7,650.2 1007.7,649.3C1018.6,648.3 1040.7,644.5 1053.4,644.2C1066.1,644 1072.8,646 1083.8,647.8C1094.8,649.5 1108.7,653.6 1119.3,654.9C1129.9,656.2 1140.4,655.2 1147.2,655.4C1154,655.6 1151.5,655.9 1159.9,656.1C1168.4,656.4 1187.3,657.4 1197.9,656.9C1208.5,656.5 1212.7,655.4 1223.3,653.6C1233.9,651.8 1251.6,647.6 1261.3,646C1271,644.5 1275.3,644.4 1281.6,644.2C1288,644 1295.6,644.5 1299.4,644.7C1303.1,645 1298.6,644.9 1304.1,645.6C1309.6,646.3 1321.8,648.4 1332.5,649C1343.3,649.5 1356.2,648.8 1368.7,649C1381.2,649.1 1395.3,650.7 1407.4,650C1419.4,649.2 1430.2,644.6 1440.9,644.3C1451.7,644 1461.2,646.6 1472,648.2C1482.7,649.7 1494.8,653 1505.5,653.4C1516.3,653.8 1527,651.9 1536.5,650.8C1545.9,649.7 1553.7,647.6 1562.4,646.9C1571,646.3 1577.4,647.5 1588.2,646.9C1598.9,646.4 1617.4,644.2 1626.9,643.8C1636.3,643.5 1638.5,643.8 1645,644.8C1651.5,645.8 1657.9,649.1 1665.6,650C1673.4,650.8 1687.1,650 1691.4,650" fill="none" stroke="#2a5a30" stroke-width="1.9" stroke-linejoin="round" stroke-linecap="round"/>
<path d="M987.9,637.1C998,637.5 1032.3,639 1048.3,639.7C1064.2,640.3 1071.2,641.1 1083.8,640.9C1096.5,640.7 1111.7,638.4 1124.3,638.4C1137,638.4 1147.6,641.1 1159.9,640.9C1172.2,640.7 1187.3,637.9 1197.9,637.1C1208.5,636.2 1209.3,635.5 1223.3,635.8C1237.2,636.2 1268.2,638.5 1281.6,639.2C1295.1,639.8 1295.6,639.5 1304.1,639.9C1312.6,640.3 1321.8,641.8 1332.5,641.7C1343.3,641.6 1357.1,640 1368.7,639.2C1380.3,638.3 1391.5,636.5 1402.2,636.5C1413,636.5 1422.4,638.5 1433.2,639.2C1443.9,639.8 1455.2,640.6 1466.8,640.4C1478.5,640.2 1492.2,637.7 1502.9,637.9C1513.7,638 1521.4,641 1531.3,641.2C1541.2,641.4 1552.9,639.7 1562.4,639.2C1571.8,638.6 1577.4,637.9 1588.2,637.9C1598.9,637.9 1613.9,639 1626.9,639.2C1639.8,639.4 1654.9,639.3 1665.6,639.2C1676.4,639.1 1687.1,638.8 1691.4,638.7" fill="none" stroke="#a3142c" stroke-width="1.8" stroke-linejoin="round" stroke-linecap="round"/>
<path d="M987.9,562.7C991.2,562.7 1000.1,561.9 1007.7,562.7C1015.2,563.4 1025,565.8 1033,567.2C1041.1,568.6 1049.6,570.9 1055.9,571.1C1062.3,571.2 1066.5,569.4 1071.1,568C1075.8,566.7 1077.5,564.8 1083.8,563C1090.2,561.2 1102.4,558.4 1109.1,557.1C1115.9,555.8 1118,555.3 1124.3,555.3C1130.7,555.3 1141.3,557 1147.2,557.1C1153.1,557.2 1153.6,556 1159.9,555.8C1166.2,555.6 1177.6,556 1185.2,555.8C1192.8,555.7 1199.2,554.8 1205.6,555C1211.9,555.2 1216.1,555.8 1223.3,557.1C1230.5,558.5 1240.2,561 1248.7,563C1257.1,565 1267.6,567.9 1274,569C1280.3,570.2 1282.4,570.2 1286.7,569.7C1290.9,569.2 1294.8,566.8 1299.4,566C1304,565.2 1308.7,565.2 1314.2,565C1319.7,564.8 1325.6,564.7 1332.5,564.7C1339.5,564.6 1347.6,565.2 1355.8,564.7C1364,564.2 1374.7,562.1 1381.6,561.6C1388.5,561 1391.5,561.2 1397.1,561.6C1402.7,561.9 1408.3,562.3 1415.1,563.6C1422,564.9 1431.1,569 1438.4,569.3C1445.7,569.6 1451.3,567.1 1459.1,565.4C1466.8,563.7 1477.6,560.2 1484.9,558.9C1492.2,557.6 1496.5,557.2 1502.9,557.6C1509.4,558.1 1518,560.6 1523.6,561.6C1529.2,562.6 1530,563.2 1536.5,563.6C1542.9,563.9 1554.6,563.6 1562.4,563.6C1570.1,563.6 1576.6,563.1 1583,563.6C1589.5,564.1 1594.6,565.5 1601.1,566.7C1607.5,568 1615.2,570.9 1621.7,571.2C1628.2,571.4 1632.5,570 1639.9,568C1647.2,566.1 1657.1,560.9 1665.6,559.4C1674.2,558 1687.1,559.4 1691.4,559.4" fill="none" stroke="#6ee83a" stroke-width="2.2" stroke-linejoin="round" stroke-linecap="round"/>
<path d="M987.9,584.3C991.2,584.3 997.6,584.8 1007.7,584.3C1017.7,583.8 1035.6,581.5 1048.3,581.2C1061,580.9 1071.2,581.8 1083.8,582.5C1096.5,583.1 1111.7,584.8 1124.3,585C1137,585.2 1145.5,583.8 1159.9,583.8C1174.3,583.8 1195.8,585.1 1210.6,585C1225.4,584.9 1236.8,583.9 1248.7,583.3C1260.5,582.6 1272.4,581.5 1281.6,581.2C1290.9,581 1295.5,581.9 1304.1,581.9C1312.7,581.8 1321,580.5 1333,580.9C1345.1,581.3 1364.1,583.7 1376.5,584.3C1388.8,584.8 1394.9,584.8 1407.4,584.3C1419.9,583.7 1435.8,580.9 1451.3,580.9C1466.8,580.9 1487.1,584.1 1500.4,584.3C1513.7,584.4 1517.6,581.9 1531.3,581.8C1545.1,581.6 1569.3,583.7 1583,583.6C1596.8,583.4 1602.3,581.2 1614,580.9C1625.6,580.6 1643.3,581.3 1652.8,581.8C1662.2,582.2 1664.3,583.3 1670.8,583.6C1677.2,583.9 1688,583.6 1691.4,583.6" fill="none" stroke="#d0161f" stroke-width="2" stroke-linejoin="round" stroke-linecap="round"/>
<rect x="987.7" y="537.3" width="751" height="176" fill="none" stroke="#a6a6a6" stroke-width="1.3"/>
<line x1="1692.1" y1="537.3" x2="1692.1" y2="713.3" stroke="#a6a6a6" stroke-width="1.3"/>
<line x1="1185.2" y1="537.3" x2="1185.2" y2="542.3" stroke="#a6a6a6" stroke-width="1"/>
<line x1="1185.2" y1="713.3" x2="1185.2" y2="708.3" stroke="#a6a6a6" stroke-width="1"/>
<line x1="1382.7" y1="537.3" x2="1382.7" y2="542.3" stroke="#a6a6a6" stroke-width="1"/>
<line x1="1382.7" y1="713.3" x2="1382.7" y2="708.3" stroke="#a6a6a6" stroke-width="1"/>
<line x1="1580.2" y1="537.3" x2="1580.2" y2="542.3" stroke="#a6a6a6" stroke-width="1"/>
<line x1="1580.2" y1="713.3" x2="1580.2" y2="708.3" stroke="#a6a6a6" stroke-width="1"/>
<line x1="987.7" y1="537.6" x2="992.7" y2="537.6" stroke="#a6a6a6" stroke-width="1"/>
<line x1="987.7" y1="625.7" x2="992.7" y2="625.7" stroke="#a6a6a6" stroke-width="1"/>
<line x1="987.7" y1="713.9" x2="992.7" y2="713.9" stroke="#a6a6a6" stroke-width="1"/>
<text x="982.2" y="545.1" font-size="18.5" text-anchor="end" font-weight="normal" fill="#000">0.5</text>
<text x="982.2" y="633.2" font-size="18.5" text-anchor="end" font-weight="normal" fill="#000">0</text>
<text x="982.2" y="721.4" font-size="18.5" text-anchor="end" font-weight="normal" fill="#000">-0.5</text>
<text x="987.7" y="737.3" font-size="18.5" text-anchor="middle" font-weight="normal" fill="#000">0</text>
<text x="1185.2" y="737.3" font-size="18.5" text-anchor="middle" font-weight="normal" fill="#000">5</text>
<text x="1382.7" y="737.3" font-size="18.5" text-anchor="middle" font-weight="normal" fill="#000">10</text>
<text x="1580.2" y="737.3" font-size="18.5" text-anchor="middle" font-weight="normal" fill="#000">15</text>
<line x1="1693.6" y1="552.3" x2="1713.1" y2="552.3" stroke="#d0161f" stroke-width="2"/>
<text x="1713.6" y="555.3" font-size="16" fill="#000">T<tspan font-size="12" dy="8">x</tspan></text>
<line x1="1693.6" y1="581.2" x2="1713.1" y2="581.2" stroke="#ecbcc4" stroke-width="2"/>
<text x="1713.6" y="584.2" font-size="16" fill="#000">T<tspan font-size="12" dy="8">y</tspan></text>
<line x1="1693.6" y1="610.1" x2="1713.1" y2="610.1" stroke="#a3142c" stroke-width="2"/>
<text x="1713.6" y="613.1" font-size="16" fill="#000">T<tspan font-size="12" dy="8">z</tspan></text>
<line x1="1693.6" y1="639" x2="1713.1" y2="639" stroke="#6ee83a" stroke-width="2"/>
<text x="1713.6" y="642" font-size="16" fill="#000">W<tspan font-size="12" dy="8">x</tspan></text>
<line x1="1693.6" y1="667.9" x2="1713.1" y2="667.9" stroke="#2a5a30" stroke-width="2"/>
<text x="1713.6" y="670.9" font-size="16" fill="#000">W<tspan font-size="12" dy="8">y</tspan></text>
<line x1="1693.6" y1="696.8" x2="1713.1" y2="696.8" stroke="#c6e6c6" stroke-width="2"/>
<text x="1713.6" y="699.8" font-size="16" fill="#000">W<tspan font-size="12" dy="8">z</tspan></text>
<text transform="translate(943,624.5) rotate(-90)" font-size="22" font-weight="bold" text-anchor="middle" fill="#000">W &amp; T (m)</text>
<line x1="273" y1="234.4" x2="273" y2="399.7" stroke="#ececec" stroke-width="1"/>
<line x1="458" y1="234.4" x2="458" y2="399.7" stroke="#ececec" stroke-width="1"/>
<line x1="643" y1="234.4" x2="643" y2="399.7" stroke="#ececec" stroke-width="1"/>
<line x1="88" y1="356" x2="828" y2="356" stroke="#ececec" stroke-width="1"/>
<line x1="88" y1="312.3" x2="828" y2="312.3" stroke="#ececec" stroke-width="1"/>
<line x1="88" y1="268.6" x2="828" y2="268.6" stroke="#ececec" stroke-width="1"/>
<rect x="88" y="234.4" width="740" height="165.3" fill="none" stroke="#a6a6a6" stroke-width="1.3"/>
<line x1="273" y1="234.4" x2="273" y2="239.4" stroke="#a6a6a6" stroke-width="1"/>
<line x1="273" y1="399.7" x2="273" y2="394.7" stroke="#a6a6a6" stroke-width="1"/>
<line x1="458" y1="234.4" x2="458" y2="239.4" stroke="#a6a6a6" stroke-width="1"/>
<line x1="458" y1="399.7" x2="458" y2="394.7" stroke="#a6a6a6" stroke-width="1"/>
<line x1="643" y1="234.4" x2="643" y2="239.4" stroke="#a6a6a6" stroke-width="1"/>
<line x1="643" y1="399.7" x2="643" y2="394.7" stroke="#a6a6a6" stroke-width="1"/>
<line x1="88" y1="399.7" x2="93" y2="399.7" stroke="#a6a6a6" stroke-width="1"/>
<line x1="828" y1="399.7" x2="823" y2="399.7" stroke="#a6a6a6" stroke-width="1"/>
<line x1="88" y1="356" x2="93" y2="356" stroke="#a6a6a6" stroke-width="1"/>
<line x1="828" y1="356" x2="823" y2="356" stroke="#a6a6a6" stroke-width="1"/>
<line x1="88" y1="312.3" x2="93" y2="312.3" stroke="#a6a6a6" stroke-width="1"/>
<line x1="828" y1="312.3" x2="823" y2="312.3" stroke="#a6a6a6" stroke-width="1"/>
<line x1="88" y1="268.6" x2="93" y2="268.6" stroke="#a6a6a6" stroke-width="1"/>
<line x1="828" y1="268.6" x2="823" y2="268.6" stroke="#a6a6a6" stroke-width="1"/>
<text x="82.5" y="408.2" font-size="18.5" text-anchor="end" font-weight="normal" fill="#000">0</text>
<text x="82.5" y="364.5" font-size="18.5" text-anchor="end" font-weight="normal" fill="#000">0.005</text>
<text x="82.5" y="320.8" font-size="18.5" text-anchor="end" font-weight="normal" fill="#000">0.01</text>
<text x="82.5" y="277.1" font-size="18.5" text-anchor="end" font-weight="normal" fill="#000">0.015</text>
<text x="88" y="424.2" font-size="18.5" text-anchor="middle" font-weight="normal" fill="#000">0</text>
<text x="273" y="424.2" font-size="18.5" text-anchor="middle" font-weight="normal" fill="#000">5</text>
<text x="458" y="424.2" font-size="18.5" text-anchor="middle" font-weight="normal" fill="#000">10</text>
<text x="643" y="424.2" font-size="18.5" text-anchor="middle" font-weight="normal" fill="#000">15</text>
<text transform="translate(19,317.2) rotate(-90)" font-size="22" text-anchor="middle" fill="#000"><tspan font-weight="normal" font-style="italic" font-size="21">&#1013;</tspan><tspan font-weight="bold">T</tspan><tspan font-weight="bold" font-size="16" dy="10.5">k</tspan><tspan font-weight="bold" dy="-10.5" dx="2"> (m)</tspan></text>
<text x="397.1" y="442.4" font-size="22" text-anchor="start" font-weight="bold" fill="#000" textLength="84.7" lengthAdjust="spacingAndGlyphs">Time (s)</text>
<line x1="1182" y1="228.2" x2="1182" y2="396.9" stroke="#ececec" stroke-width="1"/>
<line x1="1378" y1="228.2" x2="1378" y2="396.9" stroke="#ececec" stroke-width="1"/>
<line x1="1574" y1="228.2" x2="1574" y2="396.9" stroke="#ececec" stroke-width="1"/>
<line x1="986" y1="256.9" x2="1730.5" y2="256.9" stroke="#ececec" stroke-width="1"/>
<rect x="986" y="228.2" width="744.5" height="168.7" fill="none" stroke="#a6a6a6" stroke-width="1.3"/>
<line x1="1182" y1="228.2" x2="1182" y2="233.2" stroke="#a6a6a6" stroke-width="1"/>
<line x1="1182" y1="396.9" x2="1182" y2="391.9" stroke="#a6a6a6" stroke-width="1"/>
<line x1="1378" y1="228.2" x2="1378" y2="233.2" stroke="#a6a6a6" stroke-width="1"/>
<line x1="1378" y1="396.9" x2="1378" y2="391.9" stroke="#a6a6a6" stroke-width="1"/>
<line x1="1574" y1="228.2" x2="1574" y2="233.2" stroke="#a6a6a6" stroke-width="1"/>
<line x1="1574" y1="396.9" x2="1574" y2="391.9" stroke="#a6a6a6" stroke-width="1"/>
<line x1="986" y1="396.9" x2="991" y2="396.9" stroke="#a6a6a6" stroke-width="1"/>
<line x1="1730.5" y1="396.9" x2="1725.5" y2="396.9" stroke="#a6a6a6" stroke-width="1"/>
<line x1="986" y1="256.9" x2="991" y2="256.9" stroke="#a6a6a6" stroke-width="1"/>
<line x1="1730.5" y1="256.9" x2="1725.5" y2="256.9" stroke="#a6a6a6" stroke-width="1"/>
<text x="980.5" y="405.4" font-size="18.5" text-anchor="end" font-weight="normal" fill="#000">0</text>
<text x="980.5" y="265.4" font-size="18.5" text-anchor="end" font-weight="normal" fill="#000">5</text>
<text x="986" y="421.6" font-size="18.5" text-anchor="middle" font-weight="normal" fill="#000">0</text>
<text x="1182" y="421.6" font-size="18.5" text-anchor="middle" font-weight="normal" fill="#000">5</text>
<text x="1378" y="421.6" font-size="18.5" text-anchor="middle" font-weight="normal" fill="#000">10</text>
<text x="1574" y="421.6" font-size="18.5" text-anchor="middle" font-weight="normal" fill="#000">15</text>
<text x="986" y="224.3" font-size="19" fill="#000"><tspan font-size="21" dy="1.5">&#215;</tspan><tspan dx="2" dy="-1.5">10</tspan><tspan font-size="15" dy="-9.5" dx="0.5">-3</tspan></text>
<text transform="translate(952,313.1) rotate(-90)" font-size="22" text-anchor="middle" fill="#000"><tspan font-weight="normal" font-style="italic" font-size="21">&#1013;</tspan><tspan font-weight="bold">T</tspan><tspan font-weight="bold" font-size="16" dy="10.5">k</tspan><tspan font-weight="bold" dy="-10.5" dx="2"> (m)</tspan></text>
<text x="1315.2" y="440.8" font-size="22" text-anchor="start" font-weight="bold" fill="#000" textLength="84.7" lengthAdjust="spacingAndGlyphs">Time (s)</text>
<line x1="289.6" y1="759" x2="289.6" y2="923.4" stroke="#ececec" stroke-width="1"/>
<line x1="488.6" y1="759" x2="488.6" y2="923.4" stroke="#ececec" stroke-width="1"/>
<line x1="687.6" y1="759" x2="687.6" y2="923.4" stroke="#ececec" stroke-width="1"/>
<line x1="90.6" y1="786.7" x2="844.9" y2="786.7" stroke="#ececec" stroke-width="1"/>
<rect x="90.6" y="759" width="754.3" height="164.4" fill="none" stroke="#a6a6a6" stroke-width="1.3"/>
<line x1="289.6" y1="759" x2="289.6" y2="764" stroke="#a6a6a6" stroke-width="1"/>
<line x1="289.6" y1="923.4" x2="289.6" y2="918.4" stroke="#a6a6a6" stroke-width="1"/>
<line x1="488.6" y1="759" x2="488.6" y2="764" stroke="#a6a6a6" stroke-width="1"/>
<line x1="488.6" y1="923.4" x2="488.6" y2="918.4" stroke="#a6a6a6" stroke-width="1"/>
<line x1="687.6" y1="759" x2="687.6" y2="764" stroke="#a6a6a6" stroke-width="1"/>
<line x1="687.6" y1="923.4" x2="687.6" y2="918.4" stroke="#a6a6a6" stroke-width="1"/>
<line x1="90.6" y1="923.4" x2="95.6" y2="923.4" stroke="#a6a6a6" stroke-width="1"/>
<line x1="844.9" y1="923.4" x2="839.9" y2="923.4" stroke="#a6a6a6" stroke-width="1"/>
<line x1="90.6" y1="786.7" x2="95.6" y2="786.7" stroke="#a6a6a6" stroke-width="1"/>
<line x1="844.9" y1="786.7" x2="839.9" y2="786.7" stroke="#a6a6a6" stroke-width="1"/>
<text x="85.1" y="931.9" font-size="18.5" text-anchor="end" font-weight="normal" fill="#000">0</text>
<text x="85.1" y="795.2" font-size="18.5" text-anchor="end" font-weight="normal" fill="#000">5</text>
<text x="90.6" y="948.4" font-size="18.5" text-anchor="middle" font-weight="normal" fill="#000">0</text>
<text x="289.6" y="948.4" font-size="18.5" text-anchor="middle" font-weight="normal" fill="#000">5</text>
<text x="488.6" y="948.4" font-size="18.5" text-anchor="middle" font-weight="normal" fill="#000">10</text>
<text x="687.6" y="948.4" font-size="18.5" text-anchor="middle" font-weight="normal" fill="#000">15</text>
<text x="91.5" y="754.6" font-size="19" fill="#000"><tspan font-size="21" dy="1.5">&#215;</tspan><tspan dx="2" dy="-1.5">10</tspan><tspan font-size="15" dy="-9.5" dx="0.5">-3</tspan></text>
<text transform="translate(57.1,842.2) rotate(-90)" font-size="22" text-anchor="middle" fill="#000"><tspan font-weight="normal" font-style="italic" font-size="21">&#1013;</tspan><tspan font-weight="bold">T</tspan><tspan font-weight="bold" font-size="16" dy="10.5">k</tspan><tspan font-weight="bold" dy="-10.5" dx="2"> (m)</tspan></text>
<text x="424.9" y="967.7" font-size="22" text-anchor="start" font-weight="bold" fill="#000" textLength="85.6" lengthAdjust="spacingAndGlyphs">Time (s)</text>
<line x1="1185.2" y1="757.3" x2="1185.2" y2="926.3" stroke="#ececec" stroke-width="1"/>
<line x1="1382.7" y1="757.3" x2="1382.7" y2="926.3" stroke="#ececec" stroke-width="1"/>
<line x1="1580.2" y1="757.3" x2="1580.2" y2="926.3" stroke="#ececec" stroke-width="1"/>
<line x1="987.7" y1="785" x2="1737.5" y2="785" stroke="#ececec" stroke-width="1"/>
<rect x="987.7" y="757.3" width="749.8" height="169" fill="none" stroke="#a6a6a6" stroke-width="1.3"/>
<line x1="1185.2" y1="757.3" x2="1185.2" y2="762.3" stroke="#a6a6a6" stroke-width="1"/>
<line x1="1185.2" y1="926.3" x2="1185.2" y2="921.3" stroke="#a6a6a6" stroke-width="1"/>
<line x1="1382.7" y1="757.3" x2="1382.7" y2="762.3" stroke="#a6a6a6" stroke-width="1"/>
<line x1="1382.7" y1="926.3" x2="1382.7" y2="921.3" stroke="#a6a6a6" stroke-width="1"/>
<line x1="1580.2" y1="757.3" x2="1580.2" y2="762.3" stroke="#a6a6a6" stroke-width="1"/>
<line x1="1580.2" y1="926.3" x2="1580.2" y2="921.3" stroke="#a6a6a6" stroke-width="1"/>
<line x1="987.7" y1="926.3" x2="992.7" y2="926.3" stroke="#a6a6a6" stroke-width="1"/>
<line x1="1737.5" y1="926.3" x2="1732.5" y2="926.3" stroke="#a6a6a6" stroke-width="1"/>
<line x1="987.7" y1="785" x2="992.7" y2="785" stroke="#a6a6a6" stroke-width="1"/>
<line x1="1737.5" y1="785" x2="1732.5" y2="785" stroke="#a6a6a6" stroke-width="1"/>
<text x="982.2" y="934.8" font-size="18.5" text-anchor="end" font-weight="normal" fill="#000">0</text>
<text x="982.2" y="793.5" font-size="18.5" text-anchor="end" font-weight="normal" fill="#000">5</text>
<text x="987.7" y="951.3" font-size="18.5" text-anchor="middle" font-weight="normal" fill="#000">0</text>
<text x="1185.2" y="951.3" font-size="18.5" text-anchor="middle" font-weight="normal" fill="#000">5</text>
<text x="1382.7" y="951.3" font-size="18.5" text-anchor="middle" font-weight="normal" fill="#000">10</text>
<text x="1580.2" y="951.3" font-size="18.5" text-anchor="middle" font-weight="normal" fill="#000">15</text>
<text x="988" y="752.9" font-size="19" fill="#000"><tspan font-size="21" dy="1.5">&#215;</tspan><tspan dx="2" dy="-1.5">10</tspan><tspan font-size="15" dy="-9.5" dx="0.5">-3</tspan></text>
<text transform="translate(953.6,842) rotate(-90)" font-size="22" text-anchor="middle" fill="#000"><tspan font-weight="normal" font-style="italic" font-size="21">&#1013;</tspan><tspan font-weight="bold">T</tspan><tspan font-weight="bold" font-size="16" dy="10.5">k</tspan><tspan font-weight="bold" dy="-10.5" dx="2"> (m)</tspan></text>
<text x="1319.6" y="969.6" font-size="22" text-anchor="start" font-weight="bold" fill="#000" textLength="85.9" lengthAdjust="spacingAndGlyphs">Time (s)</text>
<path d="M92.3,235.5 92.3,300 92.4,370 92.8,388 93.8,396.5 96.6,391.8 99,386 101,383 102.6,381.2 104.5,380 106.6,379.2 108.5,379.8 109.9,379.4 111.5,375.5 112.5,373.9 114.3,375.2 115,390 115.4,397.8 117,396.5 118.5,395.1 119.8,398.3 120.5,399.2 121.4,398.4 122.3,399.1 123.2,398.5 124.1,399 125,398.4 125.9,399.2 126.8,398.4 127.7,399 128.6,398.7 129.5,399 130.4,398.6 131.3,399 132.2,397.4 133.1,398.9 134,398.6 134.9,399.1 135.8,398.7 136.7,399.1 137.6,398.5 138.5,399.1 139.4,398.7 140.3,399.1 141.2,398.7 142.1,399 143,398.5 143.9,398.9 144.8,398.4 145.7,399.1 146.6,398.4 147.5,398.9 148.4,398.6 149.3,399 150.2,398.6 151.1,399 152,398.4 152.9,399 153.8,398.7 154.7,399 155.6,398.6 156.5,399.1 157.4,398.4 158.3,399.1 159.2,398.6 160.1,399 161,398.5 161.9,399.1 162.8,398.7 163.7,399 164.6,395.1 165,393.6 165.5,395.6 166.4,398.7 167.3,398.9 168.2,398.4 169.1,399 170,398.6 170.9,398.9 171.8,398.5 172.7,399.1 173.6,398.5 174.5,399.2 175.4,398.4 176.3,399 177.2,398.4 178.1,399.1 179,398.5 179.9,399.2 180.8,398.4 181.7,399.1 182.6,398.5 183.5,399.1 184.4,398.6 185.3,399 186.2,398.5 187.1,399.2 188,398.6 188.9,399 189.8,398.4 190.7,399 191.6,398.4 192.5,399 193.4,398.4 194.3,399.2 195.2,398.7 196.1,399.1 197,398.7 197.9,399.1 198.8,398.7 199.7,399.1 200.6,398.7 201.5,399 202.4,398.5 203.3,399.1 204.2,398.7 205.1,399.1 206,397.7 206.9,395.2 207.5,394 207.8,394.5 208.7,396.8 209.6,395.3 210.5,392.8 210.5,392.8 211.4,395.3 212.3,398.2 213.2,395.6 213.5,395 214.1,396.4 215,398.3 215.9,399.1 216.8,398.6 217.7,399.1 218.6,398.5 219.5,399 220.4,398.7 221.3,398.9 222.2,398.4 223.1,399 224,398.6 224.9,399 225.8,398.6 226.7,399.2 227.6,396.6 228.5,398.9 229.4,398.5 230.3,399 231.2,398.3 232.1,399.1 233,398.6 233.9,399.1 234.8,398.4 235.7,399.1 236.6,398.7 237.5,399.1 238.4,398.5 239.3,399 240.2,397.5 241.1,399.1 242,398.3 242.9,399.1 243.8,398.7 244.7,399 245.6,398.3 246.5,399 247.4,398.4 248.3,398.9 249.2,398.6 250.1,399.2 251,398.7 251.9,399.1 252.8,398.4 253.7,399 254.6,398.6 255.5,399.1 256.4,398.4 257.3,398.9 258.2,398.4 259.1,399.1 260,398 260.9,399 261.8,398.4 262.7,399.1 263.6,398.5 264.5,399.1 265.4,398.5 266.3,399.2 267.2,398.6 268.1,399 269,398.3 269.9,399.1 270.8,398.4 271.7,399.2 272.6,398.4 273.5,399.2 274.4,398.4 275.3,399.1 276.2,398.3 277.1,399.2 278,398.7 278.9,390.6 279.5,384 279.8,386.9 280.7,393.3 281.5,383.8 281.6,384.6 282.5,396.2 283.4,394.4 284.3,385.2 284.5,383.8 285.2,390 286.1,388.4 286.5,384.5 287,389.6 287.9,397.9 288.8,395.4 289,395 289.7,396.7 290.6,398.3 291.5,399.2 292.4,398.7 293.3,398.9 294.2,398.5 295.1,399 296,398.6 296.9,399.1 297.8,398.6 298.7,399.1 299.6,398.3 300.5,399 301.4,398.5 302.3,399.1 303.2,398.6 304.1,399.1 305,398.4 305.9,399.1 306.8,398.6 307.7,399 308.6,398.5 309.5,399.2 310.4,398.6 311.3,399.1 312.2,398.7 313.1,399 314,398.6 314.9,399.1 315.8,398.4 316.7,399.1 317.6,398.4 318.5,398.9 319.4,398.7 320.3,398.9 321.2,398.4 322.1,399.2 323,398.5 323.9,399.1 324.8,398.3 325.7,399 326.6,398.7 327.5,399 328.4,398.4 329.3,399 330.2,398.4 331.1,399.2 332,398.6 332.9,399 333.8,398.4 334.7,399.2 335.6,398.3 336.5,399.1 337.4,398.5 338.3,399.1 339.2,398.6 340.1,399.1 341,398.7 341.9,399.1 342.8,398.5 343.7,399.1 344.6,398.7 345.5,399.1 346.4,398.4 347.3,399.1 348.2,398.5 349.1,399.2 350,398.5 350.9,399 351.8,398.6 352.7,399 353.6,398.6 354.5,399.1 355.4,398.6 356.3,399 357.2,398.3 358.1,399.1 359,398.5 359.9,399.2 360.8,398.5 361.7,399.2 362.6,398.4 363.5,399.1 364.4,398.4 365.3,399.1 366.2,398.4 367.1,383.5 367.5,378.5 368,385.1 368.9,398.9 369.8,398.5 370.7,399.1 371.6,398.7 372.5,399 373.4,398.7 374.3,399 375.2,398.6 376.1,399.2 377,398.4 377.9,398.9 378.8,398.4 379.7,399.1 380.6,398.3 381.5,399.2 382.4,398.4 383.3,399 384.2,398.4 385.1,399 386,398.3 386.9,399 387.8,398.6 388.7,399.1 389.6,398.7 390.5,398.9 391.4,398.7 392.3,399.1 393.2,398.7 394.1,399.1 395,397.5 395.9,399.1 396.8,398.7 397.7,399 398.6,398.4 399.5,399.1 400.4,398.5 401.3,399 402.2,398.6 403.1,399 404,398.4 404.9,399.1 405.8,398.5 406.7,399 407.6,398.5 408.5,399.1 409.4,398.7 410.3,399.2 411.2,398.4 412.1,398.9 413,398.4 413.9,399.2 414.8,398.5 415.7,399.1 416.6,398.5 417.5,399.1 418.4,398.7 419.3,399.1 420.2,398.6 421.1,399 422,398.4 422.9,399 423.8,398.6 424.7,399.2 425.6,398.6 426.5,399 427.4,398.4 428.3,398.9 429.2,398.5 430.1,399.1 431,398.4 431.9,399.1 432.8,398.7 433.7,399.1 434.6,397.4 435.5,395.4 436.4,392.7 436.5,392.5 437.3,394.7 438.2,392.5 438.5,391.4 439.1,394 440,398.5 440.9,399 441.8,398.5 442.7,399.1 443.6,398.5 444.5,398.9 445.4,398.4 446.3,399 447.2,398.4 448.1,399.1 449,398.6 449.9,399 450.8,398.5 451.7,399 452.6,398.5 453.5,399.2 454.4,398.5 455.3,399.1 456.2,398.6 457.1,399.2 458,398.5 458.9,399 459.8,398.6 460.7,399 461.6,398.7 462.5,399 463.4,398.6 464.3,399 465.2,398.5 466.1,399.1 467,398.4 467.9,399 468.8,398.4 469.7,399.1 470.6,398.5 471.5,399 472.4,398.7 473.3,399 474.2,398.6 475.1,398.9 476,398.4 476.9,399.2 477.8,398.3 478.7,399.1 479.6,398.6 480.5,399 481.4,398.7 482.3,399.2 483.2,398.3 484.1,399 485,398.4 485.9,399.1 486.8,398.5 487.7,399.2 488.6,398.4 489.5,399 490.4,398.6 491.3,399 492.2,398.6 493.1,399.1 494,398.5 494.9,399.1 495.8,398.7 496.7,399 497.6,397.1 498.5,399 499.4,398.3 500.3,399.1 501.2,398.4 502.1,399 503,398.7 503.9,399.1 504.8,398.6 505.7,399.1 506.6,398.4 507.5,399 508.4,398.7 509.3,399.1 510.2,398.5 511.1,398.9 512,398.7 512.9,399 513.8,398.6 514.7,399 515.6,398.3 516.5,399 517.4,398.4 518.3,399 519.2,398.7 520.1,399 521,398.7 521.9,399.2 522.8,398.5 523.7,394.6 524.5,388.8 524.6,389.3 525.5,396.4 526.4,398.7 527.3,399.2 528.2,395 529.1,383.6 529.5,380 530,384.8 530.9,396.4 531.8,398.6 532.7,398.9 533.6,398.5 534.5,399.2 535.4,398.3 536.3,399.1 537.2,398.5 538.1,399.1 539,398.7 539.9,399.1 540.8,398.7 541.7,399.1 542.6,398.5 543.5,399 544.4,398.4 545.3,399.1 546.2,398.3 547.1,399 548,398.4 548.9,399.2 549.8,398.7 550.7,399.1 551.6,398.6 552.5,399.2 553.4,398.5 554.3,399.2 555.2,398.6 556.1,399 557,398.7 557.9,399.2 558.8,398.4 559.7,399.2 560.6,398.6 561.5,399.1 562.4,398.7 563.3,399 564.2,398.4 565.1,399.1 566,398.6 566.9,399.1 567.8,398.6 568.7,398.9 569.6,398.5 570.5,399 571.4,398.5 572.3,399 573.2,398.4 574.1,399.1 575,398.3 575.9,399.1 576.8,398.7 577.7,399.1 578.6,398.7 579.5,399 580.4,398.7 581.3,399 582.2,398.6 583.1,399.1 584,398.6 584.9,399.1 585.8,398.5 586.7,399 587.6,398.6 588.5,399.2 589.4,398.3 590.3,399 591.2,398.3 592.1,399 593,398.3 593.9,399 594.8,398.7 595.7,399 596.6,398.3 597.5,399 598.4,398.4 599.3,398.9 600.2,398.5 601.1,399.1 602,398.3 602.9,399.2 603.8,398.7 604.7,399 605.6,398.3 606.5,399.1 607.4,398.4 608.3,385.3 608.8,378.8 609.2,383.8 610.1,399.2 611,398.6 611.9,399.1 612.8,398.7 613.7,399 614.6,398.5 615.5,399 616.4,398.7 617.3,399 618.2,398.4 619.1,399 620,398.5 620.9,399 621.8,398.6 622.7,399.1 623.6,398.3 624.5,399 625.4,398.4 626.3,399.1 627.2,398.7 628.1,399 629,398.5 629.9,399.1 630.8,398.4 631.7,399 632.6,398.7 633.5,399.1 634.4,398.7 635.3,399 636.2,398.7 637.1,399.1 638,398.4 638.9,398.9 639.8,398.5 640.7,399.1 641.6,398.5 642.5,399 643.4,398.3 644.3,399 645.2,398.6 646.1,399.1 647,398.5 647.9,398.9 648.8,398.7 649.7,398.9 650.6,398.4 651.5,399.1 652.4,398.6 653.3,399 654.2,398.4 655.1,399 656,398.4 656.9,399.1 657.8,398.4 658.7,399 659.6,398.5 660.5,399.1 661.4,398.7 662.3,399.1 663.2,398.7 664.1,399.1 665,391.3 665.4,388.8 665.9,392.1 666.8,398.3 667.7,399.1 668.6,398.4 669.5,399.1 670.4,398.4 671.3,399 672.2,398.5 673.1,399 674,398.7 674.9,398.9 675.8,397.7 676.7,399.1 677.6,398.3 678.5,399 679.4,398.4 680.3,399 681.2,398.3 682.1,395.1 683,387.6 683,387.6 683.9,395.1 684.8,398.7 685.7,399.1 686.6,398.4 687.5,399.1 688.4,398.6 689.3,399 690.2,398.4 691.1,399 692,398.7 692.9,399 693.8,398.6 694.7,399 695.6,398.7 696.5,399.2 697.4,398.6 698.3,399.1 699.2,398.5 700.1,399 701,398.3 701.9,399.1 702.8,398.3 703.7,399.1 704.6,398.4 705.5,399.1 706.4,398.7 707.3,399 708.2,398.3 709.1,399.1 710,398.5 710.9,399 711.8,398.4 712.7,399.1 713.6,398.4 714.5,399.2 715.4,398.7 716.3,399 717.2,398.3 718.1,399 719,398.7 719.9,399.1 720.8,398.4 721.7,399.1 722.6,398.6 723.5,399.1 724.4,398.5 725.3,399 726.2,398.4 727.1,399.2 728,398.6 728.9,399 729.8,398.4 730.7,399.1 731.6,398.5 732.5,399.2 733.4,398.7 734.3,399.2 735.2,398.5 736.1,399 737,398.4 737.9,399.1 738.8,398.5 739.7,399.1 740.6,397.7 741.5,399 742.4,398.7 743.3,399 744.2,398.3 745.1,399 746,397.5 746.9,399.2 747.8,398.6 748.7,397.7 749.6,391.8 749.7,391.4 750.5,396.2 751.4,398.7 752.3,399.1 753.2,397.9 754.1,399.1 755,398.3 755.9,399.1 756.8,398.4 757.7,399.1 758.6,398.6 759.5,399.1 760.4,316.9 761,263 761.3,286.4 762.2,386.7 763.1,399.1 764,398.4 764.9,399.1 765.8,398.5 766.7,399.1 767.6,398.3 768.5,399.1 769.4,398.7 770.3,399.2 771.2,398.7 772.1,399.1 773,398.6 773.9,399.1 774.8,398.5 775.7,399.2 776.6,398.6 777.5,399.1 778.4,398.5 779.3,399 780.2,397.4 781.1,399 782,397.3 782.4,396.4 782.9,397.6 783.8,398.4 784.7,399 785.6,398.4 786.5,399 787.4,398.7" fill="none" stroke="#0000f0" stroke-width="3.3" stroke-linejoin="round"/>
<path d="M987,395.2 987.9,389.8 988.8,395.4 989.7,392.2 990.6,396.4 991.5,392.6 992.4,395.3 993.3,382 993.5,380 994.2,388.9 995.1,379.2 995.8,368.7 996,371 996.9,386.8 997.8,374.7 998.3,367.4 998.7,373 999.6,390.5 1000.5,393.2 1001.4,396 1002.3,392.7 1003.2,397 1004.1,393.4 1005,396 1005.9,391.5 1006.8,396.6 1007.7,391.8 1008.6,395.6 1009.5,391.8 1010.4,395.5 1011.3,393.3 1012.2,395.1 1013.1,393.8 1014,395.6 1014.9,393 1015.8,396.1 1016.7,391.7 1017.6,395.4 1018.5,393.3 1019.4,395.3 1020.3,393 1021.2,395.2 1022.1,392.3 1023,396.6 1023.9,393.4 1024.8,396.7 1025.7,391.8 1026.6,395.2 1027.5,393.4 1028.4,384.5 1028.5,383.8 1029.3,391.9 1030.2,395.7 1031.1,392.6 1032,396.6 1032.9,392.8 1033.8,395.8 1034.7,394 1035.6,395.6 1036.5,391.8 1037.4,395.6 1038.3,394.1 1039.2,396.5 1040.1,393.6 1041,396.8 1041.9,392.8 1042.8,396.5 1043.7,393.7 1044.6,396.2 1045.5,389.5 1046.4,396.7 1047.3,392.4 1048.2,394.2 1049.1,383.7 1049.2,383 1050,391.6 1050.9,393.5 1051.8,396.7 1052.7,393.7 1053.6,383.9 1054.4,367.4 1054.5,368.8 1055.4,389 1056.3,394.2 1057.2,395.8 1058.1,392.2 1059,396.4 1059.9,394.2 1060.8,395.5 1061.7,392.2 1062.6,395.5 1063.5,391.9 1064.4,396.1 1065.3,393.6 1066.2,396.4 1067.1,394 1068,395.3 1068.9,393.9 1069.8,396.2 1070.7,392.8 1071.6,395.2 1072.5,393.5 1073.4,396.2 1074.3,394.2 1075.2,396.7 1076.1,392 1077,396.8 1077.9,392.5 1078.8,395.1 1079.7,391.7 1080.6,396.6 1081.5,393 1082.4,395.9 1083.3,392.5 1084.2,395.6 1085.1,393.5 1086,396 1086.9,391.3 1087.8,396.8 1088.7,389.5 1089.6,370.5 1089.7,369.2 1090.5,384.7 1091.4,396.6 1092.3,392.8 1093.2,396.4 1094.1,392.5 1095,395.3 1095.9,391.6 1096.8,396.2 1097.7,392.8 1098.6,396.9 1099.5,393.1 1100.4,396.7 1101.3,394 1102.2,396.3 1103.1,392.8 1104,395.8 1104.9,393.5 1105.8,396.3 1106.7,394.2 1107.6,396.8 1108.5,393.4 1109.4,395.7 1110.3,394.2 1111.2,396.2 1112.1,392.9 1113,395.9 1113.9,394 1114.8,396.3 1115.7,391.7 1116.6,395.5 1117.5,393.7 1118.4,396.2 1119.3,386.3 1119.6,383.8 1120.2,389.5 1121.1,393.9 1122,396.8 1122.9,391.9 1123.8,395.2 1124.7,388.5 1125.6,395.5 1126.5,392.3 1127.4,396.3 1128.3,393 1129.2,390.3 1130.1,363.6 1130.4,357.4 1131,371.7 1131.9,392 1132.8,395.4 1133.7,393.4 1134.6,396.1 1135.5,393.5 1136.4,395.7 1137.3,391.7 1138.2,395.4 1139.1,394 1140,395.1 1140.9,393.8 1141.8,396.9 1142.7,394 1143.6,395.1 1144.5,392.5 1145.4,396.4 1146.3,393.6 1147.2,395.7 1148.1,393 1149,396.8 1149.9,392.8 1150.8,395.5 1151.7,394 1152.6,395.6 1153.5,393.5 1154.4,396.1 1155.3,392.3 1156.2,395.1 1157.1,392.1 1158,396.7 1158.9,389.5 1159.8,395.3 1160.7,393.8 1161.6,396.1 1162.5,387.2 1163.4,348.7 1163.6,343 1164.3,368.7 1165.2,376.8 1166.1,325.5 1166.2,322.1 1167,363.9 1167.9,378.2 1168.8,329.4 1169,322.1 1169.7,354.7 1170.6,395.7 1171.5,391.6 1172.4,397 1173.3,393 1174.2,395.3 1175.1,392.5 1176,397 1176.9,391.7 1177.8,395.8 1178.7,391.8 1179.6,396.8 1180.5,392 1181.4,396.6 1182.3,392.2 1183.2,396.6 1184.1,392 1185,395.8 1185.9,393.1 1186.8,395.9 1187.7,393 1188.6,395.1 1189.5,390.9 1190.4,395.4 1191.3,392.4 1192.2,387.7 1192.9,377.5 1193.1,379.8 1194,395.1 1194.9,391.1 1195.8,395.5 1196.7,393.8 1197.6,395.5 1198.5,393.1 1199.4,395.5 1200.3,391.9 1201.2,396.7 1202.1,393.2 1203,396.4 1203.9,394.2 1204.8,395.1 1205.7,393.2 1206.6,396.3 1207.5,393 1208.4,396.4 1209.3,392.5 1210.2,396 1211.1,391.7 1212,395.4 1212.9,393.4 1213.8,395.5 1214.7,392.5 1215.6,395.4 1216.5,394 1217.4,396.2 1218.3,392.8 1219.2,395.5 1220.1,392.5 1221,396.6 1221.9,393 1222.8,396.5 1223.7,391.6 1224.6,395.4 1225.5,393.2 1226.4,396.4 1227.3,394 1228.2,396.7 1229.1,393 1230,395.3 1230.9,391.7 1231.8,395.8 1232.7,391.7 1233.6,396.8 1234.5,393.6 1235.4,395.7 1236.3,393.2 1237.2,395.5 1238.1,393.6 1239,395.8 1239.9,393.1 1240.8,396.3 1241.7,391.8 1242.6,396 1243.5,392.4 1244.4,395.6 1245.3,392.2 1246.2,395.2 1247.1,392.2 1248,396.4 1248.9,392.5 1249.8,396.3 1250.7,393.2 1251.6,395.2 1252.5,393.3 1253.4,395.3 1254.3,393.7 1255.2,396.8 1256.1,394.2 1257,396.3 1257.9,391.7 1258.8,395.5 1259.7,393 1260.6,396.5 1261.5,392 1262.4,396.5 1263.3,392.5 1264.2,396.4 1265.1,391.7 1266,396.7 1266.9,393.7 1267.8,396.2 1268.7,393.6 1269.6,396.5 1270.5,393.6 1271.4,396.4 1272.3,393.2 1273.2,396.9 1274.1,393.9 1275,396.2 1275.9,392.1 1276.8,396 1277.7,391.9 1278.6,395.5 1279.5,380.9 1280.2,366.2 1280.4,369.5 1281.3,391.4 1282.2,395.8 1283.1,393.4 1284,395.8 1284.9,392.6 1285.8,395.1 1286.7,387.7 1287.6,364 1287.7,362.4 1288.5,381.7 1289.4,396.9 1290.3,394 1291.2,396.8 1292.1,391.7 1293,395.2 1293.9,394 1294.8,395.5 1295.7,394.2 1296.6,396.3 1297.5,393.8 1298.4,395.7 1299.3,394 1300.2,395.7 1301.1,394.1 1302,396.5 1302.9,392.9 1303.8,396.7 1304.7,390.7 1305.6,395.2 1306.5,392 1307.4,395.7 1308.3,391.8 1309.2,396.1 1310.1,393.9 1311,396.8 1311.9,391.4 1312.8,396.3 1313.7,392.5 1314.6,395.3 1315.5,392.3 1316.4,395.2 1317.3,393.8 1318.2,395.4 1319.1,392.5 1320,396.3 1320.9,393.4 1321.8,396.2 1322.7,393.2 1323.6,395.4 1324.5,392.7 1325.4,396.5 1326.3,392.1 1327.2,396.6 1328.1,392.3 1329,395.7 1329.9,383.5 1330.8,359.1 1330.8,359.1 1331.7,383.5 1332.6,395.8 1333.5,392.5 1334.4,395.6 1335.3,371.8 1335.9,355.3 1336.2,362.5 1337.1,392 1338,396.9 1338.9,393.7 1339.8,395.6 1340.7,384.7 1341,382.2 1341.6,388.1 1342.5,391.6 1343.4,396.1 1344.3,393.4 1345.2,395.4 1346.1,392.3 1347,395.3 1347.9,392.7 1348.8,396.2 1349.7,392.3 1350.6,395.7 1351.5,393.9 1352.4,396.5 1353.3,391.7 1354.2,396.4 1355.1,392.8 1356,396 1356.9,391.7 1357.8,395.5 1358.7,392.3 1359.6,396.1 1360.5,393 1361.4,396.1 1362.3,393.5 1363.2,396.1 1364.1,393.7 1365,395.9 1365.9,393.4 1366.8,395.8 1367.7,391.9 1368.6,395.8 1369.5,392.4 1370.4,395.7 1371.3,393.4 1372.2,395.4 1373.1,388.9 1374,396.6 1374.9,393.4 1375.8,396.5 1376.7,392.3 1377.6,396.2 1378.5,393.1 1379.4,397 1380.3,392.7 1381.2,396.7 1382.1,392.6 1383,396.9 1383.9,392.6 1384.8,395.8 1385.7,392.9 1386.6,395.2 1387.5,393.8 1388.4,395.1 1389.3,391.7 1390.2,395.6 1391.1,391.8 1392,395.6 1392.9,392.8 1393.8,396.6 1394.7,394.1 1395.6,355.4 1396.1,336.1 1396.5,350.9 1397.4,396.2 1398.3,391.6 1399.2,363.6 1399.5,356.6 1400.1,372.6 1401,396.6 1401.9,392.8 1402.8,396.8 1403.7,391.6 1404.6,396.9 1405.5,392.3 1406.4,396 1407.3,394 1408.2,396 1409.1,392.1 1410,395.6 1410.9,392.2 1411.8,397 1412.7,392.9 1413.6,396.7 1414.5,393.4 1415.4,395.8 1416.3,392.5 1417.2,396.8 1418.1,392.7 1419,395.7 1419.9,393 1420.8,396.4 1421.7,392.4 1422.6,395.2 1423.5,393.3 1424.4,395.2 1425.3,392.6 1426.2,395.5 1427.1,393.3 1428,395.8 1428.9,392 1429.8,396 1430.7,388.9 1431.6,395.4 1432.5,394.2 1433.4,395.1 1434.3,392.3 1435.2,396.9 1436.1,392.8 1437,396.2 1437.9,393.1 1438.8,396.7 1439.7,394.1 1440.6,395.1 1441.5,392 1442.4,396.4 1443.3,389.4 1444.2,395.5 1445.1,391.8 1446,395.2 1446.9,392.6 1447.8,384.2 1448,383 1448.7,388.6 1449.6,397 1450.5,393.1 1451.4,396.5 1452.3,389.1 1453.2,396 1454.1,393.1 1455,396.8 1455.9,393.1 1456.8,396.3 1457.7,391.6 1458.6,396 1459.5,393 1460.4,395.2 1461.3,392.1 1462.2,396.7 1463.1,392.6 1464,396.3 1464.9,394.2 1465.8,395.1 1466.7,392.5 1467.6,396.5 1468.5,393 1469.4,396.2 1470.3,393.5 1471.2,395.6 1472.1,391.6 1473,395.8 1473.9,394.2 1474.8,395.4 1475.7,391.6 1476.6,395.9 1477.5,392.4 1478.4,395.6 1479.3,393.2 1480.2,396.1 1481.1,392.4 1482,396 1482.9,393 1483.8,395.5 1484.7,393.1 1485.6,395.3 1486.5,392.2 1487.4,395.2 1488.3,393.9 1489.2,395.8 1490.1,393 1491,395.1 1491.9,393.2 1492.8,395.5 1493.7,392.3 1494.6,395.5 1495.5,393.3 1496.4,382.1 1497.3,355.3 1497.3,355.3 1498.2,382.1 1499.1,391.5 1500,396.2 1500.9,391.7 1501.8,396.2 1502.7,392.5 1503.6,395.3 1504.5,392.4 1505.4,396.2 1506.3,394.1 1507.2,396.8 1508.1,391.7 1509,395.8 1509.9,392.2 1510.8,395.4 1511.7,393.4 1512.6,395.8 1513.5,393.1 1514.4,396.1 1515.3,392.4 1516.2,396.1 1517.1,389.6 1518,396.1 1518.9,391.8 1519.8,395.3 1520.7,392.5 1521.6,396.6 1522.5,392.6 1523.4,396.4 1524.3,392 1525.2,395.6 1526.1,393 1527,396 1527.9,392.7 1528.8,395.4 1529.7,385.3 1530.6,364.3 1530.6,364.3 1531.5,385.3 1532.4,396.6 1533.3,392.6 1534.2,395.3 1535.1,392.6 1536,396.7 1536.9,393.1 1537.8,396.3 1538.7,393.8 1539.6,395.7 1540.5,391.7 1541.4,395.8 1542.3,392.1 1543.2,396.6 1544.1,390.5 1545,395.5 1545.9,393.7 1546.8,396.2 1547.7,387.3 1548,385 1548.6,390.2 1549.5,392.7 1550.4,396.8 1551.3,391.6 1552.2,395.5 1553.1,391.8 1554,395.2 1554.9,394.1 1555.8,396.1 1556.7,394 1557.6,396 1558.5,392.1 1559.4,396.9 1560.3,391.8 1561.2,396.2 1562.1,393.9 1563,396.1 1563.9,391 1564.8,395.5 1565.7,393.8 1566.6,395.8 1567.5,392.5 1568.4,395.8 1569.3,391.9 1570.2,395.2 1571.1,394.2 1572,396.8 1572.9,392.1 1573.8,395.2 1574.7,391.6 1575.6,384.5 1576.5,351.5 1576.8,343.8 1577.4,361.5 1578.3,393.7 1579.2,391.2 1580,382 1580.1,382.8 1581,394.1 1581.9,391.9 1582.8,396.7 1583.7,392.2 1584.6,395.7 1585.5,392.9 1586.4,396.9 1587.3,392.5 1588.2,396.8 1589.1,392 1590,394.4 1590.9,384.7 1591,384 1591.8,392 1592.7,392.7 1593.6,396 1594.5,394 1595.4,395.9 1596.3,392.1 1597.2,396.4 1598.1,394 1599,396.2 1599.9,393.1 1600.8,395.4 1601.7,393.3 1602.6,395.7 1603.5,393.3 1604.4,395.2 1605.3,388.5 1606.2,396.3 1607.1,393.1 1608,396.6 1608.9,393.5 1609.8,395.3 1610.7,394 1611.6,395.6 1612.5,393.8 1613.4,395.8 1614.3,368.3 1614.7,359.1 1615.2,371.1 1616.1,392.9 1617,396.1 1617.9,393.1 1618.8,396.6 1619.7,393.3 1620.6,395.9 1621.5,392.2 1622.4,395.9 1623.3,393.3 1624.2,396.7 1625.1,391.6 1626,395.4 1626.9,393.8 1627.8,396.8 1628.7,393.4 1629.6,397 1630.5,393.1 1631.4,395.4 1632.3,389.4 1633.2,396.3 1634.1,393.4 1635,396.5 1635.9,393.5 1636.8,396.6 1637.7,392.8 1638.6,396.4 1639.5,393.1 1640.4,395.4 1641.3,392.1 1642.2,396.7 1643.1,392 1644,395.9 1644.9,392.8 1645.8,396.4 1646.7,389.3 1647.6,395.3 1648.5,393 1649.4,395.4 1650.3,392.9 1651.2,395.8 1652.1,393.8 1653,395.4 1653.9,392.2 1654.8,396.2 1655.7,391.6 1656.6,396 1657.5,391.8 1658.4,396.9 1659.3,392 1660.2,396 1661.1,392.2 1662,396.6 1662.9,382.3 1663.8,345 1663.9,342.5 1664.7,372.9 1665.6,395.1 1666.5,392.3 1667.4,395.3 1668.3,391.7 1669.2,395.4 1670.1,392.9 1671,396.5 1671.9,389.9 1672.8,387.2 1673.7,378.5 1674.6,387.6 1675.5,384.4 1676.4,386.2 1677.3,383.5 1678.2,387.6 1679.1,385.1 1680,386.1 1680.9,384 1681.8,386.3 1682.7,385.1 1683.6,387.2 1684.5,384.6 1685.4,386.7 1686.3,384.9 1687.2,387.4 1688.1,383.4 1689,386.5 1689.9,384.1 1690.8,386.1 1691.7,380.9 1692.6,386.1 1693.5,383.5 1694.4,387.1 1695.3,382.7 1696.2,386.8 1697.1,383.6 1698,388 1698.9,384.7 1699.8,386.4 1700.7,383.1 1701.6,387.9 1702.5,385.2 1703.4,388 1704.3,383.6 1705.2,386.3 1706.1,385 1707,386.7 1707.9,383.4 1708.8,387.5 1709.7,382.8 1710.6,386.6 1711.5,381.3 1712.4,387.5 1713.3,384.6 1714.2,386.7 1715.1,383.4 1716,386.3 1716.9,385.2 1717.8,386.9 1718.7,383.5 1719.6,386.7 1720.5,382.8 1721.4,387.7 1722.3,383.1 1723.2,387.8 1724.1,383.9 1725,387.6 1725.9,384.5 1726.8,386.4 1727.7,383.7 1728.6,387.4 1729.5,383.1" fill="none" stroke="#0000f0" stroke-width="3.3" stroke-linejoin="round"/>
<path d="M92.5,765.3 92.9,830 93.4,883.6 94,850 94.6,845.8 95.5,880 96.9,916.3 98,922 99.4,923.9 100.3,905 100.7,896.2 102,887 103.2,883.6 105,876 106,870 108.2,863.5 109.5,856 110.7,850.9 113,849 115.8,845.8 117,828.2 118.8,825.7 119.4,880 119.8,921.4 122,917 123.3,919 124,922.8 124.9,919.3 125.8,922.1 126.7,917.6 127.6,921.7 128.5,920.1 129.4,921.5 130.3,919.5 131.2,922.4 132.1,919.1 133,922.1 133.9,918.5 134.8,921.9 135.7,914.9 136.6,922.2 137.5,915.4 138.4,922.4 139.3,918.9 140.2,922 141.1,918.4 142,921.8 142.9,919.6 143.8,921.7 144.7,920.5 145.6,922.8 146.5,918.3 147.4,922.1 148.3,919.9 149.2,922.5 150.1,919.8 151,922.2 151.9,918.4 152.8,921.6 153.7,918.6 154.6,922 155.5,915.9 156,912.5 156.4,915.1 157.3,918.4 158.2,922 159.1,920.2 160,922.2 160.9,915.5 161.8,921.5 162.7,920.5 163.6,922.5 164.5,920.3 165.4,921.9 166.3,914.9 167.2,923.1 168.1,918.9 169,921.7 169.9,918.2 170.8,921.5 171.7,916.3 172.6,923.1 173.5,920.2 174.4,922.1 175.3,915.8 176.2,922.7 177.1,918.3 178,922.5 178.9,919.5 179.8,922.1 180.7,919.2 181.6,922.1 182.5,918.3 183.4,922.4 184.3,918.9 185.2,922.7 186.1,918.3 187,922.2 187.9,920.7 188.8,922.2 189.7,920.6 190.6,922.1 191.5,920.5 192.4,922.4 193.3,919 194.2,922 195.1,917.1 196,922 196.9,918.3 197.8,922.4 198.7,919.2 199.6,922.6 200.5,919.9 201.4,922.2 202.3,919.9 203.2,921.8 204.1,920.6 205,921.9 205.9,919.9 206.8,921.8 207.7,920.1 208.6,922.4 209.5,919 210.4,922.6 211.3,919.9 212.2,922.4 213.1,918.6 214,922.6 214.9,919.1 215.8,922.4 216.7,920.1 217.6,921.7 218.5,908.9 219,903.7 219.4,907.7 220.3,920.1 221.2,908.4 221.5,905 222.1,912.9 223,922.6 223.9,920.4 224.8,921.8 225.7,920 226.6,919.7 227.5,891.5 227.8,884.9 228.4,900 229.3,915.5 230.2,921.7 231.1,918.2 232,921.5 232.9,918.4 233.8,921.9 234.7,918.6 235.6,922.3 236.5,920 237.4,922.8 238.3,920.5 239.2,922.7 240.1,914 241,922 241.9,918.4 242.8,921.6 243.7,915.1 244.6,922.9 245.5,920 246.4,922.3 247.3,919.7 248.2,922.1 249.1,919.8 250,921.7 250.9,919.5 251.8,922.6 252.7,920.2 253.6,921.8 254.5,920.3 255.4,921.6 256.3,918.7 257.2,923.2 258.1,919.1 259,923.1 259.9,920 260.8,922.3 261.7,919.6 262.6,921.8 263.5,918.8 264.4,923 265.3,920.5 266.2,921.7 267.1,920.5 268,922.6 268.9,919.9 269.8,922.1 270.7,919.2 271.6,922.9 272.5,919.9 273.4,922.2 274.3,918.9 275.2,923.1 276.1,920.3 277,922.1 277.9,918.7 278.8,921.8 279.7,919.1 280.6,922.5 281.5,919.5 282.4,922.5 283.3,919 284.2,922.8 285.1,919.4 286,923.1 286.9,919.6 287.8,921.7 288.7,918.4 289.6,921.6 290.5,918.7 291.4,922.4 292.3,920.4 293.2,922 294.1,918.5 295,922 295.9,918.9 296.8,923 297.7,897.7 298.3,881.1 298.6,888.3 299.5,919.3 300.4,914 301.3,877.7 301.5,872.3 302.2,896.5 303.1,918.6 304,892.5 304.5,876 304.9,888.6 305.8,885.6 306,881.1 306.7,901.1 307.6,923.1 308.5,918.8 309.4,921.9 310.3,920.4 311.2,921.6 312.1,920.5 313,922.2 313.9,918.6 314.8,922.9 315.7,920.1 316.6,921.9 317.5,919.7 318.4,922.5 319.3,919.8 320.2,923.1 321.1,919.4 322,922.5 322.9,918.8 323.8,922 324.7,918.8 325.6,922.3 326.5,919.5 327.4,921.6 328.3,920.3 329.2,921.9 330.1,918.4 331,922.4 331.9,918.9 332.8,922.7 333.7,920.2 334.6,922.6 335.5,920.1 336.4,921.5 337.3,920 338.2,922.5 339.1,918.6 340,922.7 340.9,917 341.8,922.5 342.7,920.3 343.6,922.6 344.5,918.8 345.4,921.5 346.3,919.5 347.2,922.4 348.1,918.6 349,922.2 349.9,919.5 350.8,921.7 351.7,919.7 352.6,921.5 353.5,919.5 354.4,922.8 355.3,918.9 356.2,921.5 357.1,918.6 358,922.9 358.9,920.1 359.8,922 360.7,918.6 361.6,922.8 362.5,918.5 363.4,922.5 364.3,918.9 365.2,923 366.1,918.6 367,922.6 367.9,919.2 368.8,923.2 369.7,919.9 370.6,922.3 371.5,920.2 372.4,921.5 373.3,919.7 374.2,923 375.1,920 376,923 376.9,918.5 377.8,914.7 378.7,902.1 378.8,901.2 379.6,911.5 380.5,918.8 381.4,922 382.3,919.1 383.2,922.7 384.1,918.8 385,922 385.9,919.4 386.8,922.3 387.7,919.8 388.6,922 389.5,919.3 390.4,922.1 391.3,919.1 392.2,921.6 393.1,919.1 394,921.6 394.9,920.3 395.8,921.9 396.7,919.2 397.6,922.1 398.5,919.6 399.4,922.9 400.3,920.5 401.2,921.9 402.1,919.3 403,922.6 403.9,920 404.8,921.7 405.7,920.6 406.6,922.8 407.5,918.8 408.4,922.6 409.3,919.7 410.2,921.8 411.1,919.8 412,923 412.9,920 413.8,923 414.7,918.8 415.6,922.9 416.5,920.2 417.4,921.9 418.3,918.7 419.2,922.2 420.1,920.3 421,922.9 421.9,919.4 422.8,922.8 423.7,920.1 424.6,923.1 425.5,918.7 426.4,921.5 427.3,919.7 428.2,922.2 429.1,919.1 430,922 430.9,920 431.8,922.4 432.7,919.2 433.6,923.2 434.5,918.8 435.4,922.3 436.3,919.4 437.2,922.9 438.1,916.1 439,922.1 439.9,919.6 440.8,921.5 441.7,918.5 442.6,921.8 443.5,916.4 444.4,922.8 445.3,920.5 446.2,921.6 447.1,919.9 448,922 448.9,920.4 449.8,922.1 450.7,918.4 451.6,921.9 452.5,919.8 453.4,921.6 454.3,918.5 455.2,921.9 456.1,919.5 457,923.1 457.9,920.5 458.8,922.9 459.7,919.5 460.6,922.3 461.5,919.6 462.4,922.7 463.3,919.5 464.2,922.5 465.1,920.2 466,909.2 466.6,900 466.9,904 467.8,921.1 468.7,919.2 469.6,923.2 470.5,920.2 471.4,922.9 472.3,919.6 473.2,922.8 474.1,920.3 475,922.9 475.9,920.6 476.8,922.9 477.7,917.9 478.6,922.4 479.5,919.7 480.4,923.1 481.3,919.7 482.2,923.2 483.1,918.3 484,923 484.9,919.5 485.8,922.1 486.7,919.8 487.6,923.1 488.5,918.9 489.4,921.8 490.3,919.5 491.2,922.7 492.1,920.1 493,921.8 493.9,919.1 494.8,911.5 495,910 495.7,916.9 496.6,922.2 497.5,918.9 498.4,922.9 499.3,916.8 500.2,921.6 501.1,920.2 502,922.4 502.9,918.7 503.8,921.6 504.7,920.6 505.6,922.1 506.5,918.3 507.4,922.7 508.3,918.6 509.2,917 510,907 510.1,907.8 511,920 511.9,920.3 512.8,921.9 513.7,918.6 514.6,921.6 515.5,919.8 516.4,922.8 517.3,918.8 518.2,922.7 519.1,920.3 520,922.1 520.9,918.9 521.8,922.3 522.7,910.8 523.2,905 523.6,909.4 524.5,919.5 525.4,922 526.3,920.5 527.2,921.7 528.1,919.1 529,921.7 529.9,919.6 530.8,921.9 531.7,919.9 532.6,923.1 533.5,919.7 534.4,923 535.3,919.3 536.2,923.1 537.1,919.1 538,923.1 538.9,920.3 539.8,911.5 540,910 540.7,916.9 541.6,921.5 542.5,920.1 543.4,922.5 544.3,918.7 545.2,921.8 546.1,919.4 547,922.9 547.9,920.5 548.8,923 549.7,920.6 550.6,922.9 551.5,918.5 552.4,922.4 553.3,920.1 554.2,922.1 555.1,919.1 556,921.7 556.9,919.8 557.8,922.4 558.7,920.4 559.6,908.2 560.5,881.1 560.5,881.1 561.4,908.2 562.3,919.5 563.2,923.1 564.1,886 564.5,874 565,889.6 565.9,919.3 566.8,900.7 567.5,876 567.7,881.5 568.6,895 569,886 569.5,897.8 570.4,922.6 571.3,919.6 572.2,922.8 573.1,920.3 574,921.9 574.9,918.5 575.8,922.1 576.7,918.4 577.6,922.5 578.5,918.3 579.4,921.5 580.3,919.5 581.2,922.5 582.1,918.2 583,922.7 583.9,918.4 584.8,923 585.7,918.9 586.6,922.3 587.5,915 588.4,922.7 589.3,919.6 590.2,921.9 591.1,918.8 592,923 592.9,920 593.8,923.1 594.7,920.3 595.6,922 596.5,918.3 597.4,921.7 598.3,919.8 599.2,922.7 600.1,919.5 601,922.3 601.9,919.8 602.8,922.7 603.7,919.5 604.6,921.8 605.5,920 606.4,921.8 607.3,920.7 608.2,922.3 609.1,919.4 610,923.1 610.9,920.2 611.8,922.4 612.7,918.3 613.6,921.5 614.5,920.6 615.4,923.2 616.3,919.6 617.2,923.1 618.1,919.3 619,922.7 619.9,920.1 620.8,922.5 621.7,917 622.6,922.1 623.5,919 624.4,921.8 625.3,920.1 626.2,921.9 627.1,918.7 628,921.7 628.9,919.3 629.8,922.9 630.7,920.7 631.6,921.6 632.5,918.4 633.4,922 634.3,918.4 635.2,922.1 636.1,919.7 637,922.9 637.9,920.2 638.8,921.5 639.7,919.3 640.6,922.6 641.5,919.6 642.4,922.4 643.3,918.3 644.2,922.6 645.1,919.4 646,921.7 646.9,918.6 647.8,921.3 648.7,906.1 649,902.5 649.6,910.7 650.5,919.5 651.4,922 652.3,918.4 653.2,922 654.1,919.8 655,921.6 655.9,918.3 656.8,922.9 657.7,918.4 658.6,922.5 659.5,918.6 660.4,922.7 661.3,918.3 662.2,922.6 663.1,919.7 664,923 664.9,920.1 665.8,911.3 666.2,907.5 666.7,912.5 667.6,923.1 668.5,919.4 669.4,921.7 670.3,919.1 671.2,923.2 672.1,920 673,923.1 673.9,920 674.8,922.7 675.7,917 676.6,921.5 677.5,920.3 678.4,922.9 679.3,915.3 680,910 680.2,911.2 681.1,916.2 682,922.9 682.9,920.2 683.8,921.7 684.7,920.6 685.6,922.3 686.5,919.7 687.4,922.5 688.3,918.2 689.2,923 690.1,920.3 691,922.6 691.9,916.2 692.8,921.6 693.7,918.2 694.6,910.8 695.1,906.3 695.5,909.8 696.4,920.5 697.3,918.9 698.2,921.9 699.1,916.3 700,912 700,912 700.9,916.3 701.8,921.9 702.7,919.6 703.6,921.7 704.5,920.2 705.4,921.6 706.3,918.6 707.2,921.5 708.1,918.6 709,922.7 709.9,915.3 710.8,922.5 711.7,918.5 712.6,923.2 713.5,918.5 714.4,907.1 714.5,906.3 715.3,915.7 716.2,921.9 717.1,920.5 718,922.4 718.9,920.3 719.8,922.6 720.7,919.4 721.6,922.6 722.5,919.8 723.4,921.5 724.3,915.9 725,911 725.2,912.1 726.1,919.4 727,922.7 727.9,920.4 728.8,921.9 729.7,919.8 730.6,922.7 731.5,918.3 732.4,922.4 733.3,919.4 734.2,921.5 735.1,919.4 736,922.1 736.9,920.5 737.8,921.7 738.7,914.3 739.6,922.5 740.5,918.2 741.4,922.8 742.3,919.3 743.2,922.4 744.1,918.5 745,922.6 745.9,919.9 746.8,922.5 747.7,919.8 748.6,921.7 749.5,919.2 750.4,922.8 751.3,919.8 752.2,923 753.1,920.5 754,922.7 754.9,920.6 755.8,921.6 756.7,919.4 757.6,921.8 758.5,918.6 759.4,915.7 760,912 760.3,913.6 761.2,920.6 762.1,919.8 763,921.6 763.9,920 764.8,921.8 765.7,919.2 766.6,923.2 767.5,915.4 768.4,922.9 769.3,920 770.2,916 771.1,898.7 771.1,898.7 772,916 772.9,919.6 773.8,921.5 774.7,919 775.6,922.4 776.5,918.8 777.4,923.1 778.3,920.7 779.2,922.5 780.1,918.5 781,922.6 781.9,919.7 782.8,921.7 783.7,920.2 784.6,923 785.5,914.3 786.4,922.3 787.3,919.3 788.2,922.8 789.1,919.5 790,922.3 790.9,920 791.8,922 792.7,919.4 793.6,922.7 794.5,918.5 795.4,922.3 796.3,919.2 797.2,921.9 798.1,918.4 799,921.9 799.9,917.2 800.8,922.7 801.7,920.2 802.6,922.8 803.5,918.6 804.4,923 805.3,918.4 806.2,922.8 807.1,917 808,922.5 808.9,918.6 809.8,923.1 810.7,919.7 811.6,922.9 812.5,920.1 813.4,922 814.3,919.8 815.2,922.8 816.1,919.6 817,922.8 817.9,919 818.8,922 819.7,919.2 820.6,921.9 821.5,919.7 822.4,922.2 823.3,919.1 824.2,923.1 825.1,918.7 826,922.3 826.9,919.3 827.8,921.6 828.7,919 829.6,921.8 830.5,918.2 831.4,921.5 832.3,919.5 833.2,921.9 834.1,919.9 835,922.2 835.9,920.4 836.8,919.6 837.7,910.6 837.8,910 838.6,917.4 839.5,919.6 840.4,922.2 841.3,918.6 842.2,923 843.1,918.8 844,922.7" fill="none" stroke="#0000f0" stroke-width="3.3" stroke-linejoin="round"/>
<path d="M988.5,924.3 989.4,920.6 990.3,924.6 991.2,920.7 992.1,922.4 993,917.8 993.9,924.4 994.8,918.9 995.7,924.5 996.6,920.6 997.5,922.4 998.4,917.7 999.3,922.8 1000.2,920.2 1001.1,923.2 1002,918.1 1002.9,922.5 1003.8,920.7 1004.7,923.1 1005.6,919 1006.5,923.7 1007.4,920.6 1008.3,922.6 1009.2,918.8 1010.1,922.5 1011,918.7 1011.9,922.6 1012.8,919 1013.7,923.3 1014.6,919.3 1015.5,924.1 1016.4,915.8 1017.3,923.2 1018.2,919.9 1019.1,923.7 1020,919.6 1020.9,924.5 1021.8,919.3 1022.7,923.2 1023.6,919.9 1024.5,922.9 1025.4,919.7 1026.3,922.5 1027.2,917.8 1028.1,922.9 1029,918.5 1029.9,924.1 1030.8,920.3 1031.7,924.9 1032.6,918.2 1033.5,922.3 1034.4,918.1 1035.3,924.9 1036.2,919.8 1037.1,922.8 1038,919.4 1038.9,923.3 1039.8,917.7 1040.7,924.5 1041.6,919.2 1042.5,923.9 1043.4,917.2 1044.3,925 1045.2,920.8 1046.1,922.8 1047,919.5 1047.9,924.7 1048.8,917.1 1049.7,924.4 1050.6,918.3 1051.5,923.1 1052.4,916.5 1053.3,911.8 1053.7,907.5 1054.2,913.1 1055.1,923.5 1056,917.9 1056.9,922.2 1057.8,902.8 1058.2,895.7 1058.7,905 1059.6,920.9 1060.5,924.3 1061.4,917.4 1062.3,923.6 1063.2,920.9 1064.1,924.3 1065,920.2 1065.9,922.6 1066.8,914.7 1067.7,923.4 1068.6,917 1069.5,922.5 1070.4,918.4 1071.3,922.9 1072.2,916.3 1073.1,922.6 1074,917.4 1074.9,924.1 1075.8,918.4 1076.7,923.2 1077.6,917.7 1078.5,923.2 1079.4,918.3 1080.3,922.4 1081.2,911.3 1082.1,922.3 1083,912.8 1083.9,924.6 1084.8,917.1 1085.7,924.8 1086.6,920.3 1087.5,923.4 1088.4,918 1089.3,924.4 1090.2,921 1091.1,925 1092,912.3 1092.9,922.8 1093.8,917.5 1094.7,922.5 1095.6,920.2 1096.5,924.1 1097.4,917.4 1098.3,923.7 1099.2,917 1100.1,923.3 1101,919 1101.9,923.3 1102.8,920.4 1103.7,922.9 1104.6,913.6 1105.5,922.7 1106.4,920.7 1107.3,923.9 1108.2,917.9 1109.1,924.3 1110,919.1 1110.9,924.7 1111.8,920.5 1112.7,922.5 1113.6,919 1114.5,922.6 1115.4,912.4 1116.3,924.5 1117.2,919.8 1118.1,923.8 1119,917.8 1119.9,922.6 1120.8,920.3 1121.7,923.6 1122.6,919.6 1123.5,922.5 1124.4,915 1125.3,923.5 1126.2,919.1 1127.1,923.6 1128,920.7 1128.9,922.6 1129.8,919.6 1130.7,922.2 1131.6,918.5 1132.5,923.3 1133.4,919.7 1134.3,922.7 1135.2,904.3 1135.5,900 1136.1,909.9 1137,917.9 1137.9,923.8 1138.8,920.4 1139.7,924 1140.6,918.4 1141.5,924.8 1142.4,920.4 1143.3,924.5 1144.2,917.4 1145.1,923.4 1146,919.6 1146.9,924.7 1147.8,919.4 1148.7,924.5 1149.6,918.4 1150.5,924.2 1151.4,915.1 1152.3,922.7 1153.2,917.8 1154.1,922.3 1155,920.4 1155.9,923.6 1156.8,918.7 1157.7,922.9 1158.6,912.6 1159.5,923.1 1160.4,918 1161.3,922.7 1162.2,919.8 1163.1,923.9 1164,918.6 1164.9,907.4 1165.2,903.7 1165.8,912.1 1166.7,924.1 1167.6,918.5 1168.5,922.5 1169.4,919.4 1170.3,922.7 1171.2,909.1 1172,894.9 1172.1,896.1 1173,913.4 1173.9,923.1 1174.8,918.5 1175.7,922.3 1176.6,918.5 1177.5,924.8 1178.4,917.1 1179.3,922.4 1180.2,918.6 1181.1,924.7 1182,920 1182.9,922.4 1183.8,917.4 1184.7,924.6 1185.6,920 1186.5,922.3 1187.4,920.3 1188.3,923.1 1189.2,918.8 1190.1,924.3 1191,918.9 1191.9,924.7 1192.8,920.9 1193.7,924.7 1194.6,920.8 1195.5,924.2 1196.4,917.4 1197.3,923 1198.2,918.4 1199.1,922.5 1200,918.1 1200.9,923.1 1201.8,918.1 1202.7,923.6 1203.6,920.4 1204.5,923.6 1205.4,920.7 1206.3,922.6 1207.2,920 1208.1,923.1 1209,917.6 1209.9,923.9 1210.8,913.8 1211.7,924.9 1212.6,917.2 1213.5,924.6 1214.4,917.6 1215.3,924.4 1216.2,918.8 1217.1,923 1218,920.3 1218.9,922.2 1219.8,918.2 1220.7,922.4 1221.6,919.5 1222.5,922.7 1223.4,914.3 1224.3,922.4 1225.2,919.8 1226.1,922.5 1227,914.1 1227.9,924.3 1228.8,917.6 1229.7,924.1 1230.6,917.4 1231.5,924.1 1232.4,917.7 1233.3,922.5 1234.2,917.5 1235.1,923 1236,918.6 1236.9,922.2 1237.8,914.8 1238.7,923.6 1239.6,918.8 1240.5,924.3 1241.4,915.1 1242.3,922.5 1243.2,912.3 1244.1,922.7 1245,913.6 1245.9,923.3 1246.8,913.6 1247.7,924.9 1248.6,919.1 1249.5,924 1250.4,917.4 1251.3,922.7 1252.2,919.8 1253.1,923.3 1254,920.9 1254.9,922.3 1255.8,918 1256.7,924.2 1257.6,918.2 1258.5,923 1259.4,919.3 1260.3,924.9 1261.2,917.5 1262.1,924.2 1263,918 1263.9,923.2 1264.8,917.6 1265.7,923.3 1266.6,920 1267.5,924.9 1268.4,919.9 1269.3,922.4 1270.2,920.5 1271.1,924.8 1272,917.1 1272.9,924.7 1273.8,920.2 1274.7,923.1 1275.6,917.4 1276.5,924.7 1277.4,919.6 1278.3,922.2 1279.2,920.3 1280.1,922.6 1281,920.5 1281.9,924.2 1282.8,918.7 1283.7,922.5 1284.6,908.3 1285.2,897.4 1285.5,902.2 1286.4,913.1 1287.3,924.5 1288.2,917 1289.1,924.1 1290,917.1 1290.9,924 1291.8,917 1292.7,924.4 1293.6,917.2 1294.5,923.1 1295.4,911.5 1296.3,923 1297.2,918.3 1298.1,924.7 1299,920.2 1299.9,923.7 1300.8,918.8 1301.7,924 1302.6,918 1303.5,922.9 1304.4,920.8 1305.3,924.4 1306.2,920 1307.1,924.5 1308,918.5 1308.9,924 1309.8,918.2 1310.7,924.5 1311.6,919.6 1312.5,924.4 1313.4,920.9 1314.3,922.7 1315.2,918.1 1316.1,923.6 1317,920.8 1317.9,923 1318.8,919.4 1319.7,923.9 1320.6,919.1 1321.5,923.8 1322.4,915.4 1323.3,922.9 1324.2,916.3 1325.1,923.4 1326,917.4 1326.9,922.3 1327.8,918.9 1328.7,923.3 1329.6,918.6 1330.5,923 1331.4,920.9 1332.3,922.8 1333.2,917.9 1334.1,924.2 1335,919.3 1335.9,923.2 1336.8,897.8 1337.2,889.1 1337.7,900.5 1338.6,918.3 1339.5,891.8 1339.7,887.9 1340.4,905.6 1341.3,923.5 1342.2,918.8 1343.1,922.6 1344,920.2 1344.9,924.7 1345.8,917.5 1346.7,922.2 1347.6,920.4 1348.5,906.7 1348.7,904.5 1349.4,914.3 1350.3,922.6 1351.2,920.7 1352.1,922.8 1353,918.6 1353.9,924.3 1354.8,920.8 1355.7,922.6 1356.6,920.2 1357.5,924.2 1358.4,918.2 1359.3,922.5 1360.2,919.8 1361.1,925 1362,918.9 1362.9,922.6 1363.8,920.7 1364.7,924.8 1365.6,919.3 1366.5,924.2 1367.4,917.6 1368.3,922.7 1369.2,920.2 1370.1,922.4 1371,915.2 1371.9,924.2 1372.8,918.9 1373.7,924.7 1374.6,918.4 1375.5,923.2 1376.4,919 1377.3,923.1 1378.2,920.7 1379.1,924.6 1380,920.6 1380.9,924.1 1381.8,919.6 1382.7,923.4 1383.6,920.5 1384.5,924.8 1385.4,917.2 1386.3,922.9 1387.2,918.8 1388.1,924.1 1389,919.6 1389.9,923.5 1390.8,918.9 1391.7,923.3 1392.6,920.3 1393.5,923.2 1394.4,918.8 1395.3,923.4 1396.2,920.2 1397.1,923.1 1398,918.1 1398.9,923.7 1399.8,919.7 1400.7,924.1 1401.6,919.8 1402.5,924.4 1403.4,919.1 1404.3,906.4 1404.6,902.5 1405.2,911.4 1406.1,922.6 1407,917.8 1407.9,922.7 1408.8,914.3 1409.7,924.9 1410.6,921 1411.5,925 1412.4,918.4 1413.3,924.4 1414.2,920 1415.1,923.9 1416,920 1416.9,922.9 1417.8,914.7 1418.7,924.7 1419.6,914.8 1420.5,923.8 1421.4,918.1 1422.3,922.3 1423.2,919.6 1424.1,923.1 1425,921 1425.9,922.9 1426.8,918.7 1427.7,922.4 1428.6,919.3 1429.5,923.9 1430.4,920.7 1431.3,924.4 1432.2,920.9 1433.1,924.6 1434,919.2 1434.9,922.9 1435.8,917.5 1436.7,923.1 1437.6,917.4 1438.5,922.4 1439.4,920.6 1440.3,922.5 1441.2,917.1 1442.1,923 1443,919.3 1443.9,922.5 1444.8,918.7 1445.7,922.4 1446.6,919.9 1447.5,924.9 1448.4,917.5 1449.3,923.1 1450.2,920 1451.1,923.7 1452,917.5 1452.9,923.8 1453.8,919.3 1454.7,924.7 1455.6,912.8 1456.5,922.9 1457.4,919.1 1458.3,924.2 1459.2,920.4 1460.1,924.3 1461,918.1 1461.9,923.1 1462.8,917.1 1463.7,922.8 1464.6,917.1 1465.5,922.9 1466.4,919.6 1467.3,922.9 1468.2,917.9 1469.1,922.9 1470,918.3 1470.9,923.3 1471.8,920.3 1472.7,924.5 1473.6,920.9 1474.5,922.6 1475.4,914.5 1476.3,922.8 1477.2,920.4 1478.1,922.7 1479,918.7 1479.9,924.8 1480.8,920.7 1481.7,923 1482.6,918.4 1483.5,922.8 1484.4,920.7 1485.3,924.5 1486.2,921 1487.1,922.8 1488,916.3 1488.9,924 1489.8,918.7 1490.7,923 1491.6,917.3 1492.5,923.2 1493.4,920.5 1494.3,924.7 1495.2,917.6 1496.1,923 1497,917.5 1497.9,924.4 1498.8,920 1499.7,923.9 1500.6,920.7 1501.5,923.2 1502.4,917.5 1503.3,903.7 1503.7,896.8 1504.2,905.8 1505.1,923.8 1506,917.7 1506.9,924.7 1507.8,920.4 1508.7,923.7 1509.6,917.5 1510.5,922.6 1511.4,919.5 1512.3,924.3 1513.2,918.4 1514.1,925 1515,919.4 1515.9,922.5 1516.8,919.9 1517.7,922.7 1518.6,920.4 1519.5,922.4 1520.4,917.2 1521.3,923.9 1522.2,918.8 1523.1,923.3 1524,920.2 1524.9,923.5 1525.8,920.7 1526.7,924.8 1527.6,915.1 1528.5,924.2 1529.4,917.7 1530.3,924.5 1531.2,917.8 1532.1,924.2 1533,913.9 1533.9,923.3 1534.8,920.3 1535.7,922.5 1536.6,904.9 1537.1,895.6 1537.5,902.7 1538.4,917.1 1539.3,924.5 1540.2,917.9 1541.1,924.9 1542,920.2 1542.9,923.7 1543.8,918.9 1544.7,924.5 1545.6,919.5 1546.5,922.7 1547.4,919.2 1548.3,922.4 1549.2,918.2 1550.1,922.7 1551,919.1 1551.9,924.7 1552.8,918.4 1553.7,922.5 1554.6,917.3 1555.5,923.6 1556.4,913.8 1557.3,923.5 1558.2,918.6 1559.1,924.6 1560,919 1560.9,923.9 1561.8,920.3 1562.7,923.2 1563.6,919.4 1564.5,923.7 1565.4,918.3 1566.3,924.2 1567.2,919.3 1568.1,924.9 1569,912.8 1569.9,924.5 1570.8,913.8 1571.7,924.3 1572.6,917.9 1573.5,924.6 1574.4,920.8 1575.3,923.8 1576.2,919.5 1577.1,924 1578,918.7 1578.9,924.6 1579.8,919.1 1580.7,922.9 1581.6,918.1 1582.5,923.8 1583.4,919.6 1584.3,924.7 1585.2,917.9 1586.1,923.3 1587,918.9 1587.9,924.8 1588.8,918.3 1589.7,924.9 1590.6,918.3 1591.5,922.9 1592.4,913.6 1593.3,923.6 1594.2,917.1 1595.1,924.9 1596,920.5 1596.9,922.7 1597.8,917.8 1598.7,922.4 1599.6,917.7 1600.5,923.2 1601.4,920 1602.3,923 1603.2,917.3 1604.1,924.9 1605,919.6 1605.9,923.9 1606.8,920.8 1607.7,923.8 1608.6,915.7 1609.5,924.7 1610.4,917.6 1611.3,922.5 1612.2,920.5 1613.1,922.8 1614,918.9 1614.9,922.5 1615.8,920.3 1616.7,923.6 1617.6,919.9 1618.5,924.2 1619.4,918.5 1620.3,923.5 1621.2,897.8 1621.6,889.1 1622.1,900.5 1623,919.8 1623.9,923.1 1624.8,917.4 1625.7,923.5 1626.6,918 1627.5,924.1 1628.4,918.5 1629.3,922.6 1630.2,919.6 1631.1,923.3 1632,918.6 1632.9,922.4 1633.8,919.3 1634.7,923.2 1635.6,919 1636.5,923.9 1637.4,917.6 1638.3,922.8 1639.2,918 1640.1,924.3 1641,917.2 1641.9,924.7 1642.8,919 1643.7,924.3 1644.6,918.6 1645.5,923.9 1646.4,919.5 1647.3,924.8 1648.2,919 1649.1,924.5 1650,919.6 1650.9,924 1651.8,918.8 1652.7,923.7 1653.6,919.2 1654.5,923.6 1655.4,920.5 1656.3,923.9 1657.2,917.6 1658.1,923.5 1659,919.8 1659.9,922.7 1660.8,918.4 1661.7,922.4 1662.6,920.1 1663.5,923.8 1664.4,918.5 1665.3,924.9 1666.2,920.4 1667.1,924.3 1668,917.8 1668.9,923.1 1669.8,917.4 1670.7,896.9 1671.1,887.9 1671.6,899.7 1672.5,924.9 1673.4,919 1674.3,923.8 1675.2,918.1 1676.1,921.4 1677,912.4 1677.9,919.7 1678.8,917.6 1679.7,921.6 1680.6,909.8 1681.5,919.5 1682.4,917.3 1683.3,921 1684.2,915.4 1685.1,921.6 1686,914.4 1686.9,919.3 1687.8,915.6 1688.7,920.2 1689.6,911.8 1690.5,920.1 1691.4,914.8 1692.3,921 1693.2,915.2 1694.1,921.8 1695,915.8 1695.9,920.4 1696.8,911.3 1697.7,920.6 1698.6,915.8 1699.5,920.6 1700.4,915.7 1701.3,920.1 1702.2,915.7 1703.1,921.2 1704,914.5 1704.9,920 1705.8,916.9 1706.7,921.4 1707.6,916.3 1708.5,919.5 1709.4,915.1 1710.3,921.3 1711.2,915 1712.1,921.5 1713,917.5 1713.9,920.1 1714.8,911 1715.7,921.6 1716.6,915.7 1717.5,921.4 1718.4,915.8 1719.3,919.8 1720.2,917.3 1721.1,919.9 1722,916.9 1722.9,919.8 1723.8,915.7 1724.7,919.6 1725.6,910.7 1726.5,920.7 1727.4,916.9 1728.3,920.9 1729.2,910.6 1730.1,920.2 1731,914.9 1731.9,919.5 1732.8,916.8 1733.7,921.5 1734.6,917.2 1735.5,920 1736.4,917.2" fill="none" stroke="#0000f0" stroke-width="3.3" stroke-linejoin="round"/>
<line x1="202.5" y1="14.6" x2="202.5" y2="396" stroke="#000" stroke-width="1.7" stroke-dasharray="5,4"/>
<line x1="278" y1="14.6" x2="278" y2="396" stroke="#000" stroke-width="1.7" stroke-dasharray="5,4"/>
<line x1="365.5" y1="14.6" x2="365.5" y2="396" stroke="#000" stroke-width="1.7" stroke-dasharray="5,4"/>
<line x1="434.7" y1="14.6" x2="434.7" y2="396" stroke="#000" stroke-width="1.7" stroke-dasharray="5,4"/>
<line x1="522.4" y1="14.6" x2="522.4" y2="396" stroke="#000" stroke-width="1.7" stroke-dasharray="5,4"/>
<line x1="604.5" y1="14.6" x2="604.5" y2="396" stroke="#000" stroke-width="1.7" stroke-dasharray="5,4"/>
<line x1="662.1" y1="14.6" x2="662.1" y2="396" stroke="#000" stroke-width="1.7" stroke-dasharray="5,4"/>
<line x1="757.3" y1="14.6" x2="757.3" y2="396" stroke="#000" stroke-width="1.7" stroke-dasharray="5,4"/>
<line x1="990.3" y1="12.2" x2="990.3" y2="393" stroke="#000" stroke-width="1.7" stroke-dasharray="5,4"/>
<line x1="1046.6" y1="12.2" x2="1046.6" y2="393" stroke="#000" stroke-width="1.7" stroke-dasharray="5,4"/>
<line x1="1085.9" y1="12.2" x2="1085.9" y2="393" stroke="#000" stroke-width="1.7" stroke-dasharray="5,4"/>
<line x1="1122.6" y1="12.2" x2="1122.6" y2="393" stroke="#000" stroke-width="1.7" stroke-dasharray="5,4"/>
<line x1="1157.9" y1="12.2" x2="1157.9" y2="393" stroke="#000" stroke-width="1.7" stroke-dasharray="5,4"/>
<line x1="1278.2" y1="12.2" x2="1278.2" y2="393" stroke="#000" stroke-width="1.7" stroke-dasharray="5,4"/>
<line x1="1328.7" y1="12.2" x2="1328.7" y2="393" stroke="#000" stroke-width="1.7" stroke-dasharray="5,4"/>
<line x1="1392.8" y1="12.2" x2="1392.8" y2="393" stroke="#000" stroke-width="1.7" stroke-dasharray="5,4"/>
<line x1="1492.7" y1="12.2" x2="1492.7" y2="393" stroke="#000" stroke-width="1.7" stroke-dasharray="5,4"/>
<line x1="1526.8" y1="12.2" x2="1526.8" y2="393" stroke="#000" stroke-width="1.7" stroke-dasharray="5,4"/>
<line x1="1575" y1="12.2" x2="1575" y2="393" stroke="#000" stroke-width="1.7" stroke-dasharray="5,4"/>
<line x1="1611.9" y1="12.2" x2="1611.9" y2="393" stroke="#000" stroke-width="1.7" stroke-dasharray="5,4"/>
<line x1="1660" y1="12.2" x2="1660" y2="393" stroke="#000" stroke-width="1.7" stroke-dasharray="5,4"/>
<line x1="211.9" y1="535.4" x2="211.9" y2="920" stroke="#000" stroke-width="1.7" stroke-dasharray="5,4"/>
<line x1="293.7" y1="535.4" x2="293.7" y2="920" stroke="#000" stroke-width="1.7" stroke-dasharray="5,4"/>
<line x1="372" y1="535.4" x2="372" y2="920" stroke="#000" stroke-width="1.7" stroke-dasharray="5,4"/>
<line x1="459.5" y1="535.4" x2="459.5" y2="920" stroke="#000" stroke-width="1.7" stroke-dasharray="5,4"/>
<line x1="555.2" y1="535.4" x2="555.2" y2="920" stroke="#000" stroke-width="1.7" stroke-dasharray="5,4"/>
<line x1="1046.6" y1="537.3" x2="1046.6" y2="921" stroke="#000" stroke-width="1.7" stroke-dasharray="5,4"/>
<line x1="1124.9" y1="537.3" x2="1124.9" y2="921" stroke="#000" stroke-width="1.7" stroke-dasharray="5,4"/>
<line x1="1164.4" y1="537.3" x2="1164.4" y2="921" stroke="#000" stroke-width="1.7" stroke-dasharray="5,4"/>
<line x1="1280.2" y1="537.3" x2="1280.2" y2="921" stroke="#000" stroke-width="1.7" stroke-dasharray="5,4"/>
<line x1="1332.5" y1="537.3" x2="1332.5" y2="921" stroke="#000" stroke-width="1.7" stroke-dasharray="5,4"/>
<line x1="1499.4" y1="537.3" x2="1499.4" y2="921" stroke="#000" stroke-width="1.7" stroke-dasharray="5,4"/>
<line x1="1533.2" y1="537.3" x2="1533.2" y2="921" stroke="#000" stroke-width="1.7" stroke-dasharray="5,4"/>
<line x1="1618.6" y1="537.3" x2="1618.6" y2="921" stroke="#000" stroke-width="1.7" stroke-dasharray="5,4"/>
<line x1="1662.6" y1="537.3" x2="1662.6" y2="921" stroke="#000" stroke-width="1.7" stroke-dasharray="5,4"/>
<ellipse cx="209.7" cy="385.7" rx="18.6" ry="19.2" fill="none" stroke="#000" stroke-width="3.3"/>
<ellipse cx="284.9" cy="387" rx="19.6" ry="19.2" fill="none" stroke="#000" stroke-width="3.3"/>
<ellipse cx="371.6" cy="385.7" rx="19.2" ry="19.2" fill="none" stroke="#000" stroke-width="3.3"/>
<ellipse cx="437" cy="385.7" rx="19.2" ry="19.2" fill="none" stroke="#000" stroke-width="3.3"/>
<ellipse cx="527.7" cy="383" rx="18.5" ry="19.2" fill="none" stroke="#000" stroke-width="3.3"/>
<ellipse cx="608.4" cy="383" rx="19.4" ry="19.2" fill="none" stroke="#000" stroke-width="3.3"/>
<ellipse cx="673" cy="385.9" rx="18.8" ry="19.2" fill="none" stroke="#000" stroke-width="3.3"/>
<ellipse cx="765.1" cy="331" rx="69" ry="74.1" fill="none" stroke="#000" stroke-width="3.3"/>
<ellipse cx="117.7" cy="374.4" rx="33.7" ry="30" fill="none" stroke="#86e23e" stroke-width="3.8"/>
<ellipse cx="996.8" cy="382.6" rx="18.5" ry="18.6" fill="none" stroke="#000" stroke-width="3.3"/>
<ellipse cx="1051.1" cy="382.2" rx="17" ry="19.4" fill="none" stroke="#000" stroke-width="3.3"/>
<ellipse cx="1089.9" cy="382.2" rx="17.1" ry="19.4" fill="none" stroke="#000" stroke-width="3.3"/>
<ellipse cx="1128.6" cy="380.6" rx="17.4" ry="19.1" fill="none" stroke="#000" stroke-width="3.3"/>
<ellipse cx="1185" cy="359.6" rx="37.4" ry="44.9" fill="none" stroke="#000" stroke-width="3.3"/>
<ellipse cx="1287.6" cy="380.6" rx="18.4" ry="19.1" fill="none" stroke="#000" stroke-width="3.3"/>
<ellipse cx="1335.2" cy="380.5" rx="18.1" ry="18.6" fill="none" stroke="#000" stroke-width="3.3"/>
<ellipse cx="1399.8" cy="368.2" rx="29.1" ry="33.5" fill="none" stroke="#000" stroke-width="3.3"/>
<ellipse cx="1497" cy="381.5" rx="18" ry="19.6" fill="none" stroke="#000" stroke-width="3.3"/>
<ellipse cx="1535" cy="382.4" rx="16.5" ry="19.2" fill="none" stroke="#000" stroke-width="3.3"/>
<ellipse cx="1575" cy="372.4" rx="21.8" ry="30.6" fill="none" stroke="#000" stroke-width="3.3"/>
<ellipse cx="1617.2" cy="382" rx="17.4" ry="19.6" fill="none" stroke="#000" stroke-width="3.3"/>
<ellipse cx="1664.4" cy="373" rx="29.4" ry="30.7" fill="none" stroke="#000" stroke-width="3.3"/>
<ellipse cx="224" cy="903.5" rx="23.6" ry="25.1" fill="none" stroke="#000" stroke-width="3.3"/>
<ellipse cx="303.3" cy="903.5" rx="24.1" ry="25.1" fill="none" stroke="#000" stroke-width="3.3"/>
<ellipse cx="382.7" cy="904.5" rx="24.2" ry="25" fill="none" stroke="#000" stroke-width="3.3"/>
<ellipse cx="463.4" cy="905" rx="24.4" ry="24.6" fill="none" stroke="#000" stroke-width="3.3"/>
<ellipse cx="562.8" cy="904.3" rx="23.9" ry="24.5" fill="none" stroke="#000" stroke-width="3.3"/>
<ellipse cx="114.8" cy="885.6" rx="39" ry="43.6" fill="none" stroke="#86e23e" stroke-width="3.8"/>
<ellipse cx="1054.2" cy="909.9" rx="24.6" ry="24.9" fill="none" stroke="#000" stroke-width="3.3"/>
<ellipse cx="1132.5" cy="911.2" rx="23.1" ry="25" fill="none" stroke="#000" stroke-width="3.3"/>
<ellipse cx="1180.1" cy="909.6" rx="23.7" ry="24.8" fill="none" stroke="#000" stroke-width="3.3"/>
<ellipse cx="1285.6" cy="909.9" rx="24.2" ry="24.9" fill="none" stroke="#000" stroke-width="3.3"/>
<ellipse cx="1344.2" cy="909.5" rx="24.4" ry="24.6" fill="none" stroke="#000" stroke-width="3.3"/>
<ellipse cx="1497.6" cy="908.3" rx="23.9" ry="24.5" fill="none" stroke="#000" stroke-width="3.3"/>
<ellipse cx="1547.2" cy="909.4" rx="23.7" ry="24.5" fill="none" stroke="#000" stroke-width="3.3"/>
<ellipse cx="1618.8" cy="908.8" rx="23.6" ry="25" fill="none" stroke="#000" stroke-width="3.3"/>
<ellipse cx="1671.6" cy="908.8" rx="22.9" ry="25" fill="none" stroke="#000" stroke-width="3.3"/>
<text x="6.3" y="479.2" font-size="41" font-weight="bold" fill="#000">A</text>
<text x="70.2" y="475" font-size="31" fill="#000" textLength="733.1" lengthAdjust="spacingAndGlyphs">Simulation results for an identity displacement with</text>
<text x="19.5" y="516.4" font-size="31" fill="#000" textLength="286.5" lengthAdjust="spacingAndGlyphs">the ALAM estimator</text>
<text x="1020.2" y="477.6" font-size="41" font-weight="bold" fill="#000">B</text>
<text x="1062.9" y="473.7" font-size="31" fill="#000" textLength="595.5" lengthAdjust="spacingAndGlyphs">Simulation results for a minimally invasive</text>
<text x="1013.4" y="515.6" font-size="31" fill="#000" textLength="674.7" lengthAdjust="spacingAndGlyphs">surgery displacement with the ALAM estimator.</text>
<text x="3.9" y="1004" font-size="41" font-weight="bold" fill="#000">C</text>
<text x="53.5" y="1001.3" font-size="31" fill="#000" textLength="733.2" lengthAdjust="spacingAndGlyphs">Simulation results for an identity displacement with</text>
<text x="6" y="1042.8" font-size="31" fill="#000" textLength="318" lengthAdjust="spacingAndGlyphs">the Broyden estimator</text>
<text x="1019.6" y="1005.4" font-size="41" font-weight="bold" fill="#000">D</text>
<text x="1065.7" y="1001.3" font-size="31" fill="#000" textLength="594.6" lengthAdjust="spacingAndGlyphs">Simulation results for a minimally invasive</text>
<text x="1013.6" y="1043.1" font-size="31" fill="#000" textLength="708.6" lengthAdjust="spacingAndGlyphs">surgery displacement with the Broyden estimator.</text>
</svg>
</body></html>
